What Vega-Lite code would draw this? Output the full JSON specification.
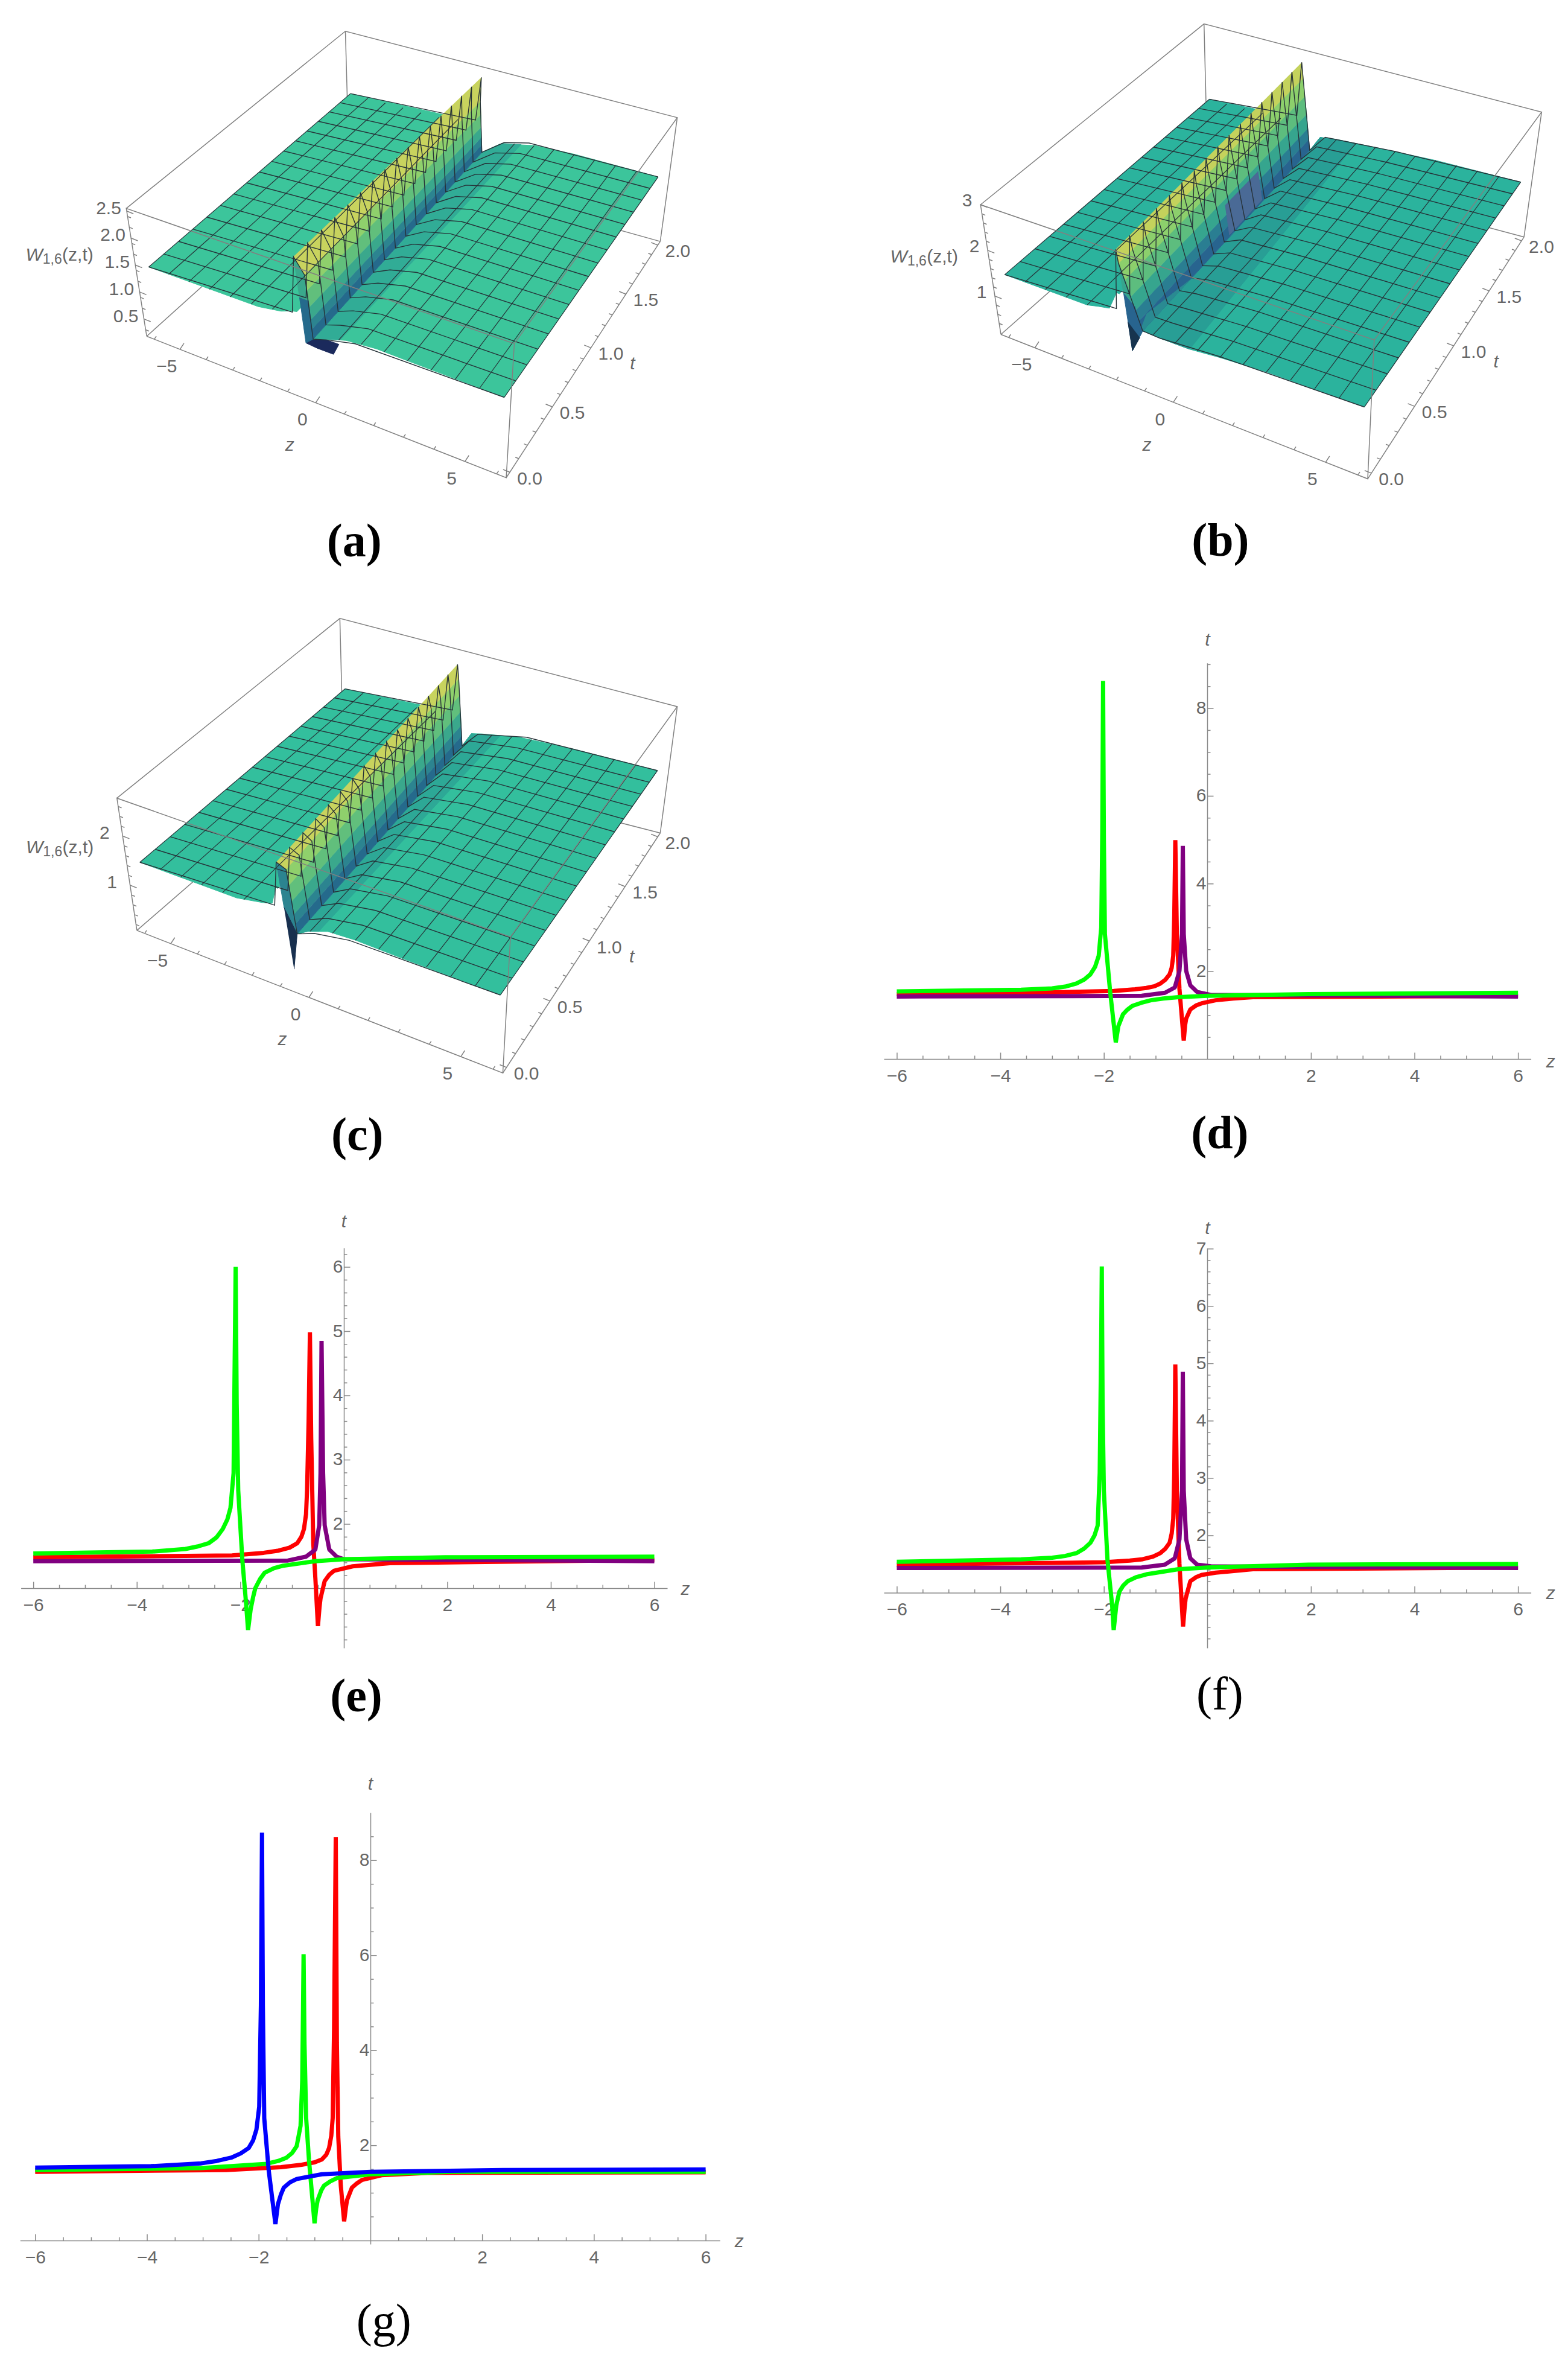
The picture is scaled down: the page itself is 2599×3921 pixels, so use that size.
{"$schema":"https://vega.github.io/schema/vega-lite/v6.json","padding":0,"background":"white","bounds":"flush","spacing":0,"columns":2,
"resolve":{"scale":{"color":"independent","fill":"independent","stroke":"independent","size":"independent"}},
"config":{"view":{"stroke":null},"text":{"font":"Liberation Sans","fontSize":30,"color":"#666666"},"axis":{"title":null,"grid":false,"domainColor":"#8a8a8a","tickColor":"#8a8a8a","domainWidth":1.5,"tickWidth":1.5,"labelColor":"#666666","labelFont":"Liberation Sans","labelFontSize":30,"labelOverlap":false,"labelFlush":false,"labelBound":false,"tickRound":false}},
"concat":[
{"width":1300,"height":1000,"data":{"values":[
{"g":"b","id":1,"z":-6.3,"t":-0.04,"w":0.18},{"g":"b","id":1,"z":-6.3,"t":2.04,"w":0.18},{"g":"b","id":1,"z":6.3,"t":2.04,"w":0.18},{"g":"b","id":2,"z":-6.3,"t":2.04,"w":0.18},{"g":"b","id":2,"z":-6.3,"t":2.04,"w":2.55},{"g":"b","id":3,"z":6.3,"t":2.04,"w":0.18},{"g":"b","id":3,"z":6.3,"t":2.04,"w":2.55},
{"g":"f","id":4,"z":-6.3,"t":-0.04,"w":0.18},{"g":"f","id":4,"z":-6.3,"t":-0.04,"w":2.55},{"g":"f","id":4,"z":6.3,"t":-0.04,"w":2.55},{"g":"f","id":4,"z":6.3,"t":-0.04,"w":0.18},{"g":"f","id":4,"z":-6.3,"t":-0.04,"w":0.18},{"g":"f","id":5,"z":6.3,"t":-0.04,"w":0.18},{"g":"f","id":5,"z":6.3,"t":2.04,"w":0.18},{"g":"f","id":6,"z":6.3,"t":-0.04,"w":2.55},{"g":"f","id":6,"z":6.3,"t":2.04,"w":2.55},{"g":"f","id":6,"z":-6.3,"t":2.04,"w":2.55},{"g":"f","id":6,"z":-6.3,"t":-0.04,"w":2.55},
{"g":"s","id":"L","c":"p","z":-6,"t":0,"w":1.44},{"g":"s","id":"L","c":"p","z":-2,"t":0,"w":1.45},{"g":"s","id":"L","c":"p","z":-1.2,"t":0,"w":1.52},{"g":"s","id":"L","c":"p","z":-0.8,"t":0,"w":1.6},{"g":"s","id":"L","c":"p","z":-0.64,"t":0,"w":1.62},{"g":"s","id":"L","c":"p","z":-0.64,"t":2,"w":1.55},{"g":"s","id":"L","c":"p","z":-6,"t":2,"w":1.44},
{"g":"s","id":"N","c":"v","z":-0.39,"t":0,"w":1.25},{"g":"s","id":"N","c":"v","z":0.1,"t":0,"w":1.3},{"g":"s","id":"N","c":"v","z":0.75,"t":0,"w":1.3},{"g":"s","id":"N","c":"v","z":0.55,"t":0,"w":1.08},{"g":"s","id":"N","c":"v","z":0,"t":0,"w":1.08},{"g":"s","id":"N","c":"v","z":-0.39,"t":0,"w":1.1},
{"g":"s","id":"R","c":"p","z":-0.13,"t":0,"w":1.22},{"g":"s","id":"R","c":"p","z":0.38,"t":0,"w":1.32},{"g":"s","id":"R","c":"p","z":1,"t":0,"w":1.42},{"g":"s","id":"R","c":"p","z":2,"t":0,"w":1.47},{"g":"s","id":"R","c":"p","z":3,"t":0,"w":1.46},{"g":"s","id":"R","c":"p","z":6,"t":0,"w":1.44},{"g":"s","id":"R","c":"p","z":6,"t":2,"w":1.44},{"g":"s","id":"R","c":"p","z":3,"t":2,"w":1.44},{"g":"s","id":"R","c":"p","z":1.5,"t":2,"w":1.4},{"g":"s","id":"R","c":"p","z":0.6,"t":2,"w":1.3},{"g":"s","id":"R","c":"p","z":0.25,"t":2,"w":1.27},{"g":"s","id":"R","c":"p","z":-0.5,"t":2,"w":1},
{"g":"s","id":"S","c":"sh","z":-0.13,"t":0,"w":1.22},{"g":"s","id":"S","c":"sh","z":0.38,"t":0,"w":1.32},{"g":"s","id":"S","c":"sh","z":0.8,"t":0,"w":1.39},{"g":"s","id":"S","c":"sh","z":1,"t":2,"w":1.35},{"g":"s","id":"S","c":"sh","z":0.25,"t":2,"w":1.27},{"g":"s","id":"S","c":"sh","z":-0.5,"t":2,"w":1},
{"g":"s","id":"Y","c":"y","z":-0.64,"t":0,"w":2.62},{"g":"s","id":"Y","c":"y","z":-0.3,"t":0,"w":2.35},{"g":"s","id":"Y","c":"y","z":-0.64,"t":2,"w":1.95},{"g":"s","id":"Y","c":"y","z":-0.64,"t":2,"w":2.42},
{"g":"s","id":"B1","c":"l","z":-0.3,"t":0,"w":2.35},{"g":"s","id":"B1","c":"l","z":-0.26,"t":0,"w":2.07},{"g":"s","id":"B1","c":"l","z":-0.6,"t":2,"w":1.71},{"g":"s","id":"B1","c":"l","z":-0.64,"t":2,"w":1.95},
{"g":"s","id":"B2","c":"g","z":-0.26,"t":0,"w":2.07},{"g":"s","id":"B2","c":"g","z":-0.21,"t":0,"w":1.78},{"g":"s","id":"B2","c":"g","z":-0.57,"t":2,"w":1.47},{"g":"s","id":"B2","c":"g","z":-0.6,"t":2,"w":1.71},
{"g":"s","id":"B3","c":"m","z":-0.21,"t":0,"w":1.78},{"g":"s","id":"B3","c":"m","z":-0.18,"t":0,"w":1.56},{"g":"s","id":"B3","c":"m","z":-0.54,"t":2,"w":1.28},{"g":"s","id":"B3","c":"m","z":-0.57,"t":2,"w":1.47},
{"g":"s","id":"B4","c":"n","z":-0.18,"t":0,"w":1.56},{"g":"s","id":"B4","c":"n","z":-0.16,"t":0,"w":1.39},{"g":"s","id":"B4","c":"n","z":-0.52,"t":2,"w":1.14},{"g":"s","id":"B4","c":"n","z":-0.54,"t":2,"w":1.28},
{"g":"s","id":"B5","c":"d","z":-0.16,"t":0,"w":1.39},{"g":"s","id":"B5","c":"d","z":-0.13,"t":0,"w":1.22},{"g":"s","id":"B5","c":"d","z":-0.5,"t":2,"w":1},{"g":"s","id":"B5","c":"d","z":-0.52,"t":2,"w":1.14},
{"g":"s","id":"F1","c":"m","z":-0.64,"t":0,"w":2.62},{"g":"s","id":"F1","c":"m","z":-0.52,"t":0,"w":1.9},{"g":"s","id":"F1","c":"m","z":-0.22,"t":0,"w":1.9},{"g":"s","id":"F1","c":"m","z":-0.3,"t":0,"w":2.35},
{"g":"s","id":"F2","c":"d","z":-0.52,"t":0,"w":1.9},{"g":"s","id":"F2","c":"d","z":-0.39,"t":0,"w":1.1},{"g":"s","id":"F2","c":"d","z":-0.13,"t":0,"w":1.22},{"g":"s","id":"F2","c":"d","z":-0.22,"t":0,"w":1.9},
{"g":"t","t":0,"z":-6,"w":1.44},{"g":"t","t":0,"z":-0.8,"w":1.58},{"g":"t","t":0,"z":-0.64,"w":2.62},{"g":"t","t":0,"z":-0.3,"w":2.35},{"g":"t","t":0,"z":-0.13,"w":1.22},{"g":"t","t":0,"z":0.35,"w":1.3},{"g":"t","t":0,"z":1.3,"w":1.42},{"g":"t","t":0,"z":6,"w":1.44},
{"g":"t","t":0.125,"z":-6,"w":1.44},{"g":"t","t":0.125,"z":-0.8,"w":1.58},{"g":"t","t":0.125,"z":-0.64,"w":2.61},{"g":"t","t":0.125,"z":-0.32,"w":2.33},{"g":"t","t":0.125,"z":-0.15,"w":1.21},{"g":"t","t":0.125,"z":0.35,"w":1.3},{"g":"t","t":0.125,"z":1.3,"w":1.42},{"g":"t","t":0.125,"z":6,"w":1.44},
{"g":"t","t":0.25,"z":-6,"w":1.44},{"g":"t","t":0.25,"z":-0.8,"w":1.58},{"g":"t","t":0.25,"z":-0.64,"w":2.6},{"g":"t","t":0.25,"z":-0.34,"w":2.3},{"g":"t","t":0.25,"z":-0.18,"w":1.19},{"g":"t","t":0.25,"z":0.35,"w":1.3},{"g":"t","t":0.25,"z":1.3,"w":1.42},{"g":"t","t":0.25,"z":6,"w":1.44},
{"g":"t","t":0.375,"z":-6,"w":1.44},{"g":"t","t":0.375,"z":-0.8,"w":1.58},{"g":"t","t":0.375,"z":-0.64,"w":2.58},{"g":"t","t":0.375,"z":-0.36,"w":2.28},{"g":"t","t":0.375,"z":-0.2,"w":1.18},{"g":"t","t":0.375,"z":0.35,"w":1.3},{"g":"t","t":0.375,"z":1.3,"w":1.42},{"g":"t","t":0.375,"z":6,"w":1.44},
{"g":"t","t":0.5,"z":-6,"w":1.44},{"g":"t","t":0.5,"z":-0.8,"w":1.58},{"g":"t","t":0.5,"z":-0.64,"w":2.57},{"g":"t","t":0.5,"z":-0.39,"w":2.25},{"g":"t","t":0.5,"z":-0.22,"w":1.17},{"g":"t","t":0.5,"z":0.35,"w":1.3},{"g":"t","t":0.5,"z":1.3,"w":1.42},{"g":"t","t":0.5,"z":6,"w":1.44},
{"g":"t","t":0.625,"z":-6,"w":1.44},{"g":"t","t":0.625,"z":-0.8,"w":1.58},{"g":"t","t":0.625,"z":-0.64,"w":2.56},{"g":"t","t":0.625,"z":-0.41,"w":2.23},{"g":"t","t":0.625,"z":-0.25,"w":1.15},{"g":"t","t":0.625,"z":0.35,"w":1.3},{"g":"t","t":0.625,"z":1.3,"w":1.42},{"g":"t","t":0.625,"z":6,"w":1.44},
{"g":"t","t":0.75,"z":-6,"w":1.44},{"g":"t","t":0.75,"z":-0.8,"w":1.58},{"g":"t","t":0.75,"z":-0.64,"w":2.55},{"g":"t","t":0.75,"z":-0.43,"w":2.2},{"g":"t","t":0.75,"z":-0.27,"w":1.14},{"g":"t","t":0.75,"z":0.35,"w":1.3},{"g":"t","t":0.75,"z":1.3,"w":1.42},{"g":"t","t":0.75,"z":6,"w":1.44},
{"g":"t","t":0.875,"z":-6,"w":1.44},{"g":"t","t":0.875,"z":-0.8,"w":1.58},{"g":"t","t":0.875,"z":-0.64,"w":2.53},{"g":"t","t":0.875,"z":-0.45,"w":2.18},{"g":"t","t":0.875,"z":-0.29,"w":1.12},{"g":"t","t":0.875,"z":0.35,"w":1.3},{"g":"t","t":0.875,"z":1.3,"w":1.42},{"g":"t","t":0.875,"z":6,"w":1.44},
{"g":"t","t":1,"z":-6,"w":1.44},{"g":"t","t":1,"z":-0.8,"w":1.58},{"g":"t","t":1,"z":-0.64,"w":2.52},{"g":"t","t":1,"z":-0.47,"w":2.15},{"g":"t","t":1,"z":-0.32,"w":1.11},{"g":"t","t":1,"z":0.35,"w":1.3},{"g":"t","t":1,"z":1.3,"w":1.42},{"g":"t","t":1,"z":6,"w":1.44},
{"g":"t","t":1.125,"z":-6,"w":1.44},{"g":"t","t":1.125,"z":-0.8,"w":1.58},{"g":"t","t":1.125,"z":-0.64,"w":2.51},{"g":"t","t":1.125,"z":-0.49,"w":2.13},{"g":"t","t":1.125,"z":-0.34,"w":1.1},{"g":"t","t":1.125,"z":0.35,"w":1.3},{"g":"t","t":1.125,"z":1.3,"w":1.42},{"g":"t","t":1.125,"z":6,"w":1.44},
{"g":"t","t":1.25,"z":-6,"w":1.44},{"g":"t","t":1.25,"z":-0.8,"w":1.58},{"g":"t","t":1.25,"z":-0.64,"w":2.5},{"g":"t","t":1.25,"z":-0.51,"w":2.1},{"g":"t","t":1.25,"z":-0.36,"w":1.08},{"g":"t","t":1.25,"z":0.35,"w":1.3},{"g":"t","t":1.25,"z":1.3,"w":1.42},{"g":"t","t":1.25,"z":6,"w":1.44},
{"g":"t","t":1.375,"z":-6,"w":1.44},{"g":"t","t":1.375,"z":-0.8,"w":1.58},{"g":"t","t":1.375,"z":-0.64,"w":2.48},{"g":"t","t":1.375,"z":-0.53,"w":2.08},{"g":"t","t":1.375,"z":-0.38,"w":1.07},{"g":"t","t":1.375,"z":0.35,"w":1.3},{"g":"t","t":1.375,"z":1.3,"w":1.42},{"g":"t","t":1.375,"z":6,"w":1.44},
{"g":"t","t":1.5,"z":-6,"w":1.44},{"g":"t","t":1.5,"z":-0.8,"w":1.58},{"g":"t","t":1.5,"z":-0.64,"w":2.47},{"g":"t","t":1.5,"z":-0.56,"w":2.05},{"g":"t","t":1.5,"z":-0.41,"w":1.06},{"g":"t","t":1.5,"z":0.35,"w":1.3},{"g":"t","t":1.5,"z":1.3,"w":1.42},{"g":"t","t":1.5,"z":6,"w":1.44},
{"g":"t","t":1.625,"z":-6,"w":1.44},{"g":"t","t":1.625,"z":-0.8,"w":1.58},{"g":"t","t":1.625,"z":-0.64,"w":2.46},{"g":"t","t":1.625,"z":-0.58,"w":2.03},{"g":"t","t":1.625,"z":-0.43,"w":1.04},{"g":"t","t":1.625,"z":0.35,"w":1.3},{"g":"t","t":1.625,"z":1.3,"w":1.42},{"g":"t","t":1.625,"z":6,"w":1.44},
{"g":"t","t":1.75,"z":-6,"w":1.44},{"g":"t","t":1.75,"z":-0.8,"w":1.58},{"g":"t","t":1.75,"z":-0.64,"w":2.45},{"g":"t","t":1.75,"z":-0.6,"w":2},{"g":"t","t":1.75,"z":-0.45,"w":1.03},{"g":"t","t":1.75,"z":0.35,"w":1.3},{"g":"t","t":1.75,"z":1.3,"w":1.42},{"g":"t","t":1.75,"z":6,"w":1.44},
{"g":"t","t":1.875,"z":-6,"w":1.44},{"g":"t","t":1.875,"z":-0.8,"w":1.58},{"g":"t","t":1.875,"z":-0.64,"w":2.43},{"g":"t","t":1.875,"z":-0.62,"w":1.98},{"g":"t","t":1.875,"z":-0.48,"w":1.01},{"g":"t","t":1.875,"z":0.35,"w":1.3},{"g":"t","t":1.875,"z":1.3,"w":1.42},{"g":"t","t":1.875,"z":6,"w":1.44},
{"g":"t","t":2,"z":-6,"w":1.44},{"g":"t","t":2,"z":-0.8,"w":1.58},{"g":"t","t":2,"z":-0.64,"w":2.42},{"g":"t","t":2,"z":-0.64,"w":1.95},{"g":"t","t":2,"z":-0.5,"w":1},{"g":"t","t":2,"z":0.35,"w":1.3},{"g":"t","t":2,"z":1.3,"w":1.42},{"g":"t","t":2,"z":6,"w":1.44},
{"g":"z","z":-6,"t":0,"w":1.44},{"g":"z","z":-6,"t":2,"w":1.44},{"g":"z","z":-5.25,"t":0,"w":1.44},{"g":"z","z":-5.25,"t":2,"w":1.44},{"g":"z","z":-4.5,"t":0,"w":1.44},{"g":"z","z":-4.5,"t":2,"w":1.44},{"g":"z","z":-3.75,"t":0,"w":1.44},{"g":"z","z":-3.75,"t":2,"w":1.44},{"g":"z","z":-3,"t":0,"w":1.44},{"g":"z","z":-3,"t":2,"w":1.44},{"g":"z","z":-2.25,"t":0,"w":1.45},{"g":"z","z":-2.25,"t":2,"w":1.45},{"g":"z","z":-1.5,"t":0,"w":1.5},{"g":"z","z":-1.5,"t":2,"w":1.5},{"g":"z","z":0.75,"t":0,"w":1.38},{"g":"z","z":0.75,"t":2,"w":1.33},{"g":"z","z":1.5,"t":0,"w":1.45},{"g":"z","z":1.5,"t":2,"w":1.4},{"g":"z","z":2.25,"t":0,"w":1.47},{"g":"z","z":2.25,"t":2,"w":1.43},{"g":"z","z":3,"t":0,"w":1.46},{"g":"z","z":3,"t":2,"w":1.44},{"g":"z","z":3.75,"t":0,"w":1.45},{"g":"z","z":3.75,"t":2,"w":1.44},{"g":"z","z":4.5,"t":0,"w":1.44},{"g":"z","z":4.5,"t":2,"w":1.44},{"g":"z","z":5.25,"t":0,"w":1.44},{"g":"z","z":5.25,"t":2,"w":1.44},{"g":"z","z":6,"t":0,"w":1.44},{"g":"z","z":6,"t":2,"w":1.44},
{"g":"kz","z":-6,"t":-0.04,"w":0.18,"m":0},{"g":"kz","z":-5,"t":-0.04,"w":0.18,"m":1},{"g":"kz","z":-4,"t":-0.04,"w":0.18,"m":0},{"g":"kz","z":-3,"t":-0.04,"w":0.18,"m":0},{"g":"kz","z":-2,"t":-0.04,"w":0.18,"m":0},{"g":"kz","z":-1,"t":-0.04,"w":0.18,"m":0},{"g":"kz","z":0,"t":-0.04,"w":0.18,"m":1},{"g":"kz","z":1,"t":-0.04,"w":0.18,"m":0},{"g":"kz","z":2,"t":-0.04,"w":0.18,"m":0},{"g":"kz","z":3,"t":-0.04,"w":0.18,"m":0},{"g":"kz","z":4,"t":-0.04,"w":0.18,"m":0},{"g":"kz","z":5,"t":-0.04,"w":0.18,"m":1},{"g":"kz","z":6,"t":-0.04,"w":0.18,"m":0},
{"g":"kt","z":6.3,"t":0,"w":0.18,"m":1},{"g":"kt","z":6.3,"t":0.1,"w":0.18,"m":0},{"g":"kt","z":6.3,"t":0.2,"w":0.18,"m":0},{"g":"kt","z":6.3,"t":0.3,"w":0.18,"m":0},{"g":"kt","z":6.3,"t":0.4,"w":0.18,"m":0},{"g":"kt","z":6.3,"t":0.5,"w":0.18,"m":1},{"g":"kt","z":6.3,"t":0.6,"w":0.18,"m":0},{"g":"kt","z":6.3,"t":0.7,"w":0.18,"m":0},{"g":"kt","z":6.3,"t":0.8,"w":0.18,"m":0},{"g":"kt","z":6.3,"t":0.9,"w":0.18,"m":0},{"g":"kt","z":6.3,"t":1,"w":0.18,"m":1},{"g":"kt","z":6.3,"t":1.1,"w":0.18,"m":0},{"g":"kt","z":6.3,"t":1.2,"w":0.18,"m":0},{"g":"kt","z":6.3,"t":1.3,"w":0.18,"m":0},{"g":"kt","z":6.3,"t":1.4,"w":0.18,"m":0},{"g":"kt","z":6.3,"t":1.5,"w":0.18,"m":1},{"g":"kt","z":6.3,"t":1.6,"w":0.18,"m":0},{"g":"kt","z":6.3,"t":1.7,"w":0.18,"m":0},{"g":"kt","z":6.3,"t":1.8,"w":0.18,"m":0},{"g":"kt","z":6.3,"t":1.9,"w":0.18,"m":0},{"g":"kt","z":6.3,"t":2,"w":0.18,"m":1},
{"g":"kw","z":-6.3,"t":-0.04,"w":0.3,"m":0},{"g":"kw","z":-6.3,"t":-0.04,"w":0.5,"m":1},{"g":"kw","z":-6.3,"t":-0.04,"w":0.7,"m":0},{"g":"kw","z":-6.3,"t":-0.04,"w":0.9,"m":0},{"g":"kw","z":-6.3,"t":-0.04,"w":1,"m":1},{"g":"kw","z":-6.3,"t":-0.04,"w":1.2,"m":0},{"g":"kw","z":-6.3,"t":-0.04,"w":1.4,"m":0},{"g":"kw","z":-6.3,"t":-0.04,"w":1.5,"m":1},{"g":"kw","z":-6.3,"t":-0.04,"w":1.7,"m":0},{"g":"kw","z":-6.3,"t":-0.04,"w":1.9,"m":0},{"g":"kw","z":-6.3,"t":-0.04,"w":2,"m":1},{"g":"kw","z":-6.3,"t":-0.04,"w":2.2,"m":0},{"g":"kw","z":-6.3,"t":-0.04,"w":2.4,"m":0},{"g":"kw","z":-6.3,"t":-0.04,"w":2.5,"m":1},
{"g":"lz","z":-5,"t":-0.04,"w":0.18,"x":"−5"},{"g":"lz","z":0,"t":-0.04,"w":0.18,"x":"0"},{"g":"lz","z":5,"t":-0.04,"w":0.18,"x":"5"},
{"g":"lt","z":6.3,"t":0,"w":0.18,"x":"0.0"},{"g":"lt","z":6.3,"t":0.5,"w":0.18,"x":"0.5"},{"g":"lt","z":6.3,"t":1,"w":0.18,"x":"1.0"},{"g":"lt","z":6.3,"t":1.5,"w":0.18,"x":"1.5"},{"g":"lt","z":6.3,"t":2,"w":0.18,"x":"2.0"},
{"g":"lw","z":-6.3,"t":-0.04,"w":0.5,"x":"0.5"},{"g":"lw","z":-6.3,"t":-0.04,"w":1,"x":"1.0"},{"g":"lw","z":-6.3,"t":-0.04,"w":1.5,"x":"1.5"},{"g":"lw","z":-6.3,"t":-0.04,"w":2,"x":"2.0"},{"g":"lw","z":-6.3,"t":-0.04,"w":2.5,"x":"2.5"},
{"g":"li","z":0.27,"t":-0.35,"w":0.18,"x":"z"},{"g":"li","z":7.71,"t":0.985,"w":0.18,"x":"t"},
{"g":"W","z":-6.3,"t":-0.04,"w":1.68},
{"g":"c","z":3.72,"t":-0.72,"w":0.18,"x":"(a)"}
]},
"transform":[{"window":[{"op":"row_number","as":"i"}]},
{"calculate":"((datum.z+6.3)/12.6)*0.887/(1-0.113*(datum.z+6.3)/12.6)","as":"u"},
{"calculate":"((datum.t+0.04)/2.08)*1.222/(1+0.222*(datum.t+0.04)/2.08)","as":"v"},
{"calculate":"(datum.w-0.18)/2.37","as":"h"},
{"calculate":"(1-datum.h)*((1-datum.v)*((1-datum.u)*203+datum.u*1048)+datum.v*((1-datum.u)*678+datum.u*1410))+datum.h*((1-datum.v)*((1-datum.u)*155+datum.u*1067)+datum.v*((1-datum.u)*670+datum.u*1450))","as":"sx"},
{"calculate":"(1-datum.h)*((1-datum.v)*((1-datum.u)*915+datum.u*1300)+datum.v*((1-datum.u)*420+datum.u*657))+datum.h*((1-datum.v)*((1-datum.u)*567+datum.u*935)+datum.v*((1-datum.u)*85+datum.u*320))","as":"sy"}],
"encoding":{"x":{"field":"sx","type":"quantitative","axis":null,"scale":{"domain":[-141.8,1701.6],"range":[0,1300],"zero":false,"nice":false}},"y":{"field":"sy","type":"quantitative","axis":null,"scale":{"domain":[0,1642],"range":[0,1000],"zero":false,"nice":false}}},
"layer":[
{"transform":[{"filter":"datum.g=='b'"}],"mark":{"type":"line","color":"#808080","strokeWidth":1.5},"encoding":{"detail":{"field":"id"},"order":{"field":"i"}}},
{"transform":[{"filter":"datum.g=='s'"}],"mark":{"type":"line","strokeWidth":1},"encoding":{"detail":{"field":"id"},"order":{"field":"i"},"fill":{"field":"c","type":"nominal","legend":null,"scale":{"domain":["p","sh","y","l","g","m","n","d","v"],"range":["#3CC59B","#31AC96","#C8D35E","#8FD06C","#61BF7C","#3AA88C","#2C8490","#256A8C","#1B2A5C"]}},"stroke":{"field":"c","type":"nominal","legend":null,"scale":{"domain":["p","sh","y","l","g","m","n","d","v"],"range":["#3CC59B","#31AC96","#C8D35E","#8FD06C","#61BF7C","#3AA88C","#2C8490","#256A8C","#1B2A5C"]}}}},
{"transform":[{"filter":"datum.g=='t'"}],"mark":{"type":"line","color":"#263238","strokeWidth":1.4},"encoding":{"detail":{"field":"t"},"order":{"field":"i"}}},
{"transform":[{"filter":"datum.g=='z'"}],"mark":{"type":"line","color":"#263238","strokeWidth":1.2},"encoding":{"detail":{"field":"z"},"order":{"field":"i"}}},
{"transform":[{"filter":"datum.g=='f'"}],"mark":{"type":"line","color":"#808080","strokeWidth":1.5},"encoding":{"detail":{"field":"id"},"order":{"field":"i"}}},
{"transform":[{"filter":"datum.g=='kz'"}],"mark":{"type":"point","shape":"M0,0L0.55,-0.84","filled":false,"color":"#808080","strokeWidth":1.5,"opacity":1},"encoding":{"size":{"field":"m","type":"quantitative","legend":null,"scale":{"domain":[0,1],"range":[144,576]}}}},
{"transform":[{"filter":"datum.g=='kt'"}],"mark":{"type":"point","shape":"M0,0L-0.93,-0.37","filled":false,"color":"#808080","strokeWidth":1.5,"opacity":1},"encoding":{"size":{"field":"m","type":"quantitative","legend":null,"scale":{"domain":[0,1],"range":[144,576]}}}},
{"transform":[{"filter":"datum.g=='kw'"}],"mark":{"type":"point","shape":"M0,0L0.93,0.37","filled":false,"color":"#808080","strokeWidth":1.5,"opacity":1},"encoding":{"size":{"field":"m","type":"quantitative","legend":null,"scale":{"domain":[0,1],"range":[144,576]}}}},
{"transform":[{"filter":"datum.g=='lz'"}],"mark":{"type":"text","dx":-22,"dy":29},"encoding":{"text":{"field":"x"}}},
{"transform":[{"filter":"datum.g=='lt'"}],"mark":{"type":"text","dx":33,"dy":11},"encoding":{"text":{"field":"x"}}},
{"transform":[{"filter":"datum.g=='lw'"}],"mark":{"type":"text","dx":-30,"dy":-4},"encoding":{"text":{"field":"x"}}},
{"transform":[{"filter":"datum.g=='li'"}],"mark":{"type":"text","fontStyle":"italic"},"encoding":{"text":{"field":"x"}}},
{"transform":[{"filter":"datum.g=='W'"}],"mark":{"type":"text","text":"(z,t)","align":"right","dx":-67},"encoding":{}},
{"transform":[{"filter":"datum.g=='W'"}],"mark":{"type":"text","text":"1,6","align":"right","dx":-119,"dy":7,"fontSize":23},"encoding":{}},
{"transform":[{"filter":"datum.g=='W'"}],"mark":{"type":"text","text":"W","align":"right","dx":-151,"fontStyle":"italic"},"encoding":{}},
{"transform":[{"filter":"datum.g=='c'"}],"mark":{"type":"text","font":"Liberation Serif","fontSize":78,"fontWeight":"bold","color":"#000000"},"encoding":{"text":{"field":"x"}}}
]},
{"width":1299,"height":1000,"data":{"values":[
{"g":"b","id":1,"z":-6.3,"t":-0.04,"w":0.16},{"g":"b","id":1,"z":-6.3,"t":2.04,"w":0.16},{"g":"b","id":1,"z":6.3,"t":2.04,"w":0.16},{"g":"b","id":2,"z":-6.3,"t":2.04,"w":0.16},{"g":"b","id":2,"z":-6.3,"t":2.04,"w":3},{"g":"b","id":3,"z":6.3,"t":2.04,"w":0.16},{"g":"b","id":3,"z":6.3,"t":2.04,"w":3},
{"g":"f","id":4,"z":-6.3,"t":-0.04,"w":0.16},{"g":"f","id":4,"z":-6.3,"t":-0.04,"w":3},{"g":"f","id":4,"z":6.3,"t":-0.04,"w":3},{"g":"f","id":4,"z":6.3,"t":-0.04,"w":0.16},{"g":"f","id":4,"z":-6.3,"t":-0.04,"w":0.16},{"g":"f","id":5,"z":6.3,"t":-0.04,"w":0.16},{"g":"f","id":5,"z":6.3,"t":2.04,"w":0.16},{"g":"f","id":6,"z":6.3,"t":-0.04,"w":3},{"g":"f","id":6,"z":6.3,"t":2.04,"w":3},{"g":"f","id":6,"z":-6.3,"t":2.04,"w":3},{"g":"f","id":6,"z":-6.3,"t":-0.04,"w":3},
{"g":"s","id":"L","c":"p","z":-6,"t":0,"w":1.44},{"g":"s","id":"L","c":"p","z":-3,"t":0,"w":1.44},{"g":"s","id":"L","c":"p","z":-2.6,"t":0,"w":1.5},{"g":"s","id":"L","c":"p","z":-2.2,"t":0,"w":1.55},{"g":"s","id":"L","c":"p","z":-1.9,"t":0,"w":1.95},{"g":"s","id":"L","c":"p","z":-1.8,"t":0,"w":1.95},{"g":"s","id":"L","c":"p","z":-2.2,"t":2,"w":1.55},{"g":"s","id":"L","c":"p","z":-6,"t":2,"w":1.44},
{"g":"s","id":"R","c":"p","z":-1.08,"t":0,"w":1.32},{"g":"s","id":"R","c":"p","z":-0.5,"t":0,"w":1.3},{"g":"s","id":"R","c":"p","z":0.5,"t":0,"w":1.3},{"g":"s","id":"R","c":"p","z":1.5,"t":0,"w":1.36},{"g":"s","id":"R","c":"p","z":3,"t":0,"w":1.42},{"g":"s","id":"R","c":"p","z":6,"t":0,"w":1.44},{"g":"s","id":"R","c":"p","z":6,"t":2,"w":1.44},{"g":"s","id":"R","c":"p","z":3,"t":2,"w":1.42},{"g":"s","id":"R","c":"p","z":1,"t":2,"w":1.36},{"g":"s","id":"R","c":"p","z":-0.8,"t":2,"w":1.3},{"g":"s","id":"R","c":"p","z":-1.4,"t":2,"w":1.25},{"g":"s","id":"R","c":"p","z":-1.8,"t":2,"w":0.9},
{"g":"s","id":"S","c":"sh","z":-1.08,"t":0,"w":1.32},{"g":"s","id":"S","c":"sh","z":-0.5,"t":0,"w":1.3},{"g":"s","id":"S","c":"sh","z":0.5,"t":0,"w":1.3},{"g":"s","id":"S","c":"sh","z":0,"t":2,"w":1.32},{"g":"s","id":"S","c":"sh","z":-1.4,"t":2,"w":1.25},{"g":"s","id":"S","c":"sh","z":-1.8,"t":2,"w":0.9},
{"g":"s","id":"Y","c":"y","z":-1.8,"t":0,"w":2.9},{"g":"s","id":"Y","c":"y","z":-1.74,"t":0,"w":2.61},{"g":"s","id":"Y","c":"y","z":-2.13,"t":2,"w":2.45},{"g":"s","id":"Y","c":"y","z":-2.2,"t":2,"w":2.8},
{"g":"s","id":"B1","c":"l","z":-1.74,"t":0,"w":2.61},{"g":"s","id":"B1","c":"l","z":-1.57,"t":0,"w":2.29},{"g":"s","id":"B1","c":"l","z":-2.05,"t":2,"w":2.06},{"g":"s","id":"B1","c":"l","z":-2.13,"t":2,"w":2.45},
{"g":"s","id":"B2","c":"g","z":-1.57,"t":0,"w":2.29},{"g":"s","id":"B2","c":"g","z":-1.41,"t":0,"w":1.97},{"g":"s","id":"B2","c":"g","z":-1.96,"t":2,"w":1.68},{"g":"s","id":"B2","c":"g","z":-2.05,"t":2,"w":2.06},
{"g":"s","id":"B3","c":"m","z":-1.41,"t":0,"w":1.97},{"g":"s","id":"B3","c":"m","z":-1.28,"t":0,"w":1.71},{"g":"s","id":"B3","c":"m","z":-1.9,"t":2,"w":1.37},{"g":"s","id":"B3","c":"m","z":-1.96,"t":2,"w":1.68},
{"g":"s","id":"B4","c":"n","z":-1.28,"t":0,"w":1.71},{"g":"s","id":"B4","c":"n","z":-1.18,"t":0,"w":1.51},{"g":"s","id":"B4","c":"n","z":-1.85,"t":2,"w":1.13},{"g":"s","id":"B4","c":"n","z":-1.9,"t":2,"w":1.37},
{"g":"s","id":"B5","c":"d","z":-1.18,"t":0,"w":1.51},{"g":"s","id":"B5","c":"d","z":-1.08,"t":0,"w":1.32},{"g":"s","id":"B5","c":"d","z":-1.8,"t":2,"w":0.9},{"g":"s","id":"B5","c":"d","z":-1.85,"t":2,"w":1.13},
{"g":"s","id":"B6","c":"u","z":-1.6,"t":0.95,"w":1.75},{"g":"s","id":"B6","c":"u","z":-1.47,"t":0.95,"w":1.12},{"g":"s","id":"B6","c":"u","z":-1.6,"t":1.35,"w":1.05},{"g":"s","id":"B6","c":"u","z":-1.75,"t":1.35,"w":1.65},
{"g":"s","id":"N","c":"w","z":-1.5,"t":0,"w":0.8},{"g":"s","id":"N","c":"w","z":-1.08,"t":0,"w":1.32},{"g":"s","id":"N","c":"w","z":-1.33,"t":0.5,"w":1.15},{"g":"s","id":"N","c":"w","z":-1.55,"t":0.15,"w":1.2},
{"g":"s","id":"F1","c":"m","z":-1.8,"t":0,"w":2.9},{"g":"s","id":"F1","c":"m","z":-1.65,"t":0,"w":2},{"g":"s","id":"F1","c":"m","z":-1.3,"t":0,"w":1.8},{"g":"s","id":"F1","c":"m","z":-1.74,"t":0,"w":2.61},
{"g":"s","id":"F2","c":"d","z":-1.65,"t":0,"w":2},{"g":"s","id":"F2","c":"d","z":-1.5,"t":0,"w":0.8},{"g":"s","id":"F2","c":"d","z":-1.08,"t":0,"w":1.32},{"g":"s","id":"F2","c":"d","z":-1.3,"t":0,"w":1.8},
{"g":"s","id":"F3","c":"v","z":-1.58,"t":0,"w":1.4},{"g":"s","id":"F3","c":"v","z":-1.5,"t":0,"w":0.8},{"g":"s","id":"F3","c":"v","z":-1.2,"t":0,"w":1.15},
{"g":"t","t":0,"z":-6,"w":1.44},{"g":"t","t":0,"z":-1.95,"w":1.6},{"g":"t","t":0,"z":-1.8,"w":2.9},{"g":"t","t":0,"z":-1.74,"w":2.61},{"g":"t","t":0,"z":-1.08,"w":1.32},{"g":"t","t":0,"z":-0.48,"w":1.3},{"g":"t","t":0,"z":1.5,"w":1.38},{"g":"t","t":0,"z":6,"w":1.44},
{"g":"t","t":0.125,"z":-6,"w":1.44},{"g":"t","t":0.125,"z":-1.98,"w":1.6},{"g":"t","t":0.125,"z":-1.83,"w":2.89},{"g":"t","t":0.125,"z":-1.76,"w":2.6},{"g":"t","t":0.125,"z":-1.13,"w":1.29},{"g":"t","t":0.125,"z":-0.53,"w":1.3},{"g":"t","t":0.125,"z":1.5,"w":1.38},{"g":"t","t":0.125,"z":6,"w":1.44},
{"g":"t","t":0.25,"z":-6,"w":1.44},{"g":"t","t":0.25,"z":-2,"w":1.6},{"g":"t","t":0.25,"z":-1.85,"w":2.89},{"g":"t","t":0.25,"z":-1.79,"w":2.59},{"g":"t","t":0.25,"z":-1.17,"w":1.27},{"g":"t","t":0.25,"z":-0.57,"w":1.3},{"g":"t","t":0.25,"z":1.5,"w":1.38},{"g":"t","t":0.25,"z":6,"w":1.44},
{"g":"t","t":0.375,"z":-6,"w":1.44},{"g":"t","t":0.375,"z":-2.03,"w":1.6},{"g":"t","t":0.375,"z":-1.88,"w":2.88},{"g":"t","t":0.375,"z":-1.81,"w":2.58},{"g":"t","t":0.375,"z":-1.22,"w":1.24},{"g":"t","t":0.375,"z":-0.62,"w":1.3},{"g":"t","t":0.375,"z":1.5,"w":1.38},{"g":"t","t":0.375,"z":6,"w":1.44},
{"g":"t","t":0.5,"z":-6,"w":1.44},{"g":"t","t":0.5,"z":-2.05,"w":1.6},{"g":"t","t":0.5,"z":-1.9,"w":2.88},{"g":"t","t":0.5,"z":-1.84,"w":2.57},{"g":"t","t":0.5,"z":-1.26,"w":1.22},{"g":"t","t":0.5,"z":-0.66,"w":1.3},{"g":"t","t":0.5,"z":1.5,"w":1.38},{"g":"t","t":0.5,"z":6,"w":1.44},
{"g":"t","t":0.625,"z":-6,"w":1.44},{"g":"t","t":0.625,"z":-2.08,"w":1.6},{"g":"t","t":0.625,"z":-1.93,"w":2.87},{"g":"t","t":0.625,"z":-1.86,"w":2.56},{"g":"t","t":0.625,"z":-1.31,"w":1.19},{"g":"t","t":0.625,"z":-0.71,"w":1.3},{"g":"t","t":0.625,"z":1.5,"w":1.38},{"g":"t","t":0.625,"z":6,"w":1.44},
{"g":"t","t":0.75,"z":-6,"w":1.44},{"g":"t","t":0.75,"z":-2.1,"w":1.6},{"g":"t","t":0.75,"z":-1.95,"w":2.86},{"g":"t","t":0.75,"z":-1.89,"w":2.55},{"g":"t","t":0.75,"z":-1.35,"w":1.16},{"g":"t","t":0.75,"z":-0.75,"w":1.3},{"g":"t","t":0.75,"z":1.5,"w":1.38},{"g":"t","t":0.75,"z":6,"w":1.44},
{"g":"t","t":0.875,"z":-6,"w":1.44},{"g":"t","t":0.875,"z":-2.13,"w":1.6},{"g":"t","t":0.875,"z":-1.98,"w":2.86},{"g":"t","t":0.875,"z":-1.91,"w":2.54},{"g":"t","t":0.875,"z":-1.4,"w":1.14},{"g":"t","t":0.875,"z":-0.8,"w":1.3},{"g":"t","t":0.875,"z":1.5,"w":1.38},{"g":"t","t":0.875,"z":6,"w":1.44},
{"g":"t","t":1,"z":-6,"w":1.44},{"g":"t","t":1,"z":-2.15,"w":1.6},{"g":"t","t":1,"z":-2,"w":2.85},{"g":"t","t":1,"z":-1.94,"w":2.53},{"g":"t","t":1,"z":-1.44,"w":1.11},{"g":"t","t":1,"z":-0.84,"w":1.3},{"g":"t","t":1,"z":1.5,"w":1.38},{"g":"t","t":1,"z":6,"w":1.44},
{"g":"t","t":1.125,"z":-6,"w":1.44},{"g":"t","t":1.125,"z":-2.18,"w":1.6},{"g":"t","t":1.125,"z":-2.03,"w":2.84},{"g":"t","t":1.125,"z":-1.96,"w":2.52},{"g":"t","t":1.125,"z":-1.49,"w":1.08},{"g":"t","t":1.125,"z":-0.89,"w":1.3},{"g":"t","t":1.125,"z":1.5,"w":1.38},{"g":"t","t":1.125,"z":6,"w":1.44},
{"g":"t","t":1.25,"z":-6,"w":1.44},{"g":"t","t":1.25,"z":-2.2,"w":1.6},{"g":"t","t":1.25,"z":-2.05,"w":2.84},{"g":"t","t":1.25,"z":-1.98,"w":2.51},{"g":"t","t":1.25,"z":-1.53,"w":1.06},{"g":"t","t":1.25,"z":-0.93,"w":1.3},{"g":"t","t":1.25,"z":1.5,"w":1.38},{"g":"t","t":1.25,"z":6,"w":1.44},
{"g":"t","t":1.375,"z":-6,"w":1.44},{"g":"t","t":1.375,"z":-2.23,"w":1.6},{"g":"t","t":1.375,"z":-2.08,"w":2.83},{"g":"t","t":1.375,"z":-2.01,"w":2.5},{"g":"t","t":1.375,"z":-1.58,"w":1.03},{"g":"t","t":1.375,"z":-0.98,"w":1.3},{"g":"t","t":1.375,"z":1.5,"w":1.38},{"g":"t","t":1.375,"z":6,"w":1.44},
{"g":"t","t":1.5,"z":-6,"w":1.44},{"g":"t","t":1.5,"z":-2.25,"w":1.6},{"g":"t","t":1.5,"z":-2.1,"w":2.83},{"g":"t","t":1.5,"z":-2.03,"w":2.49},{"g":"t","t":1.5,"z":-1.62,"w":1.01},{"g":"t","t":1.5,"z":-1.02,"w":1.3},{"g":"t","t":1.5,"z":1.5,"w":1.38},{"g":"t","t":1.5,"z":6,"w":1.44},
{"g":"t","t":1.625,"z":-6,"w":1.44},{"g":"t","t":1.625,"z":-2.28,"w":1.6},{"g":"t","t":1.625,"z":-2.13,"w":2.82},{"g":"t","t":1.625,"z":-2.06,"w":2.48},{"g":"t","t":1.625,"z":-1.67,"w":0.98},{"g":"t","t":1.625,"z":-1.07,"w":1.3},{"g":"t","t":1.625,"z":1.5,"w":1.38},{"g":"t","t":1.625,"z":6,"w":1.44},
{"g":"t","t":1.75,"z":-6,"w":1.44},{"g":"t","t":1.75,"z":-2.3,"w":1.6},{"g":"t","t":1.75,"z":-2.15,"w":2.81},{"g":"t","t":1.75,"z":-2.08,"w":2.47},{"g":"t","t":1.75,"z":-1.71,"w":0.95},{"g":"t","t":1.75,"z":-1.11,"w":1.3},{"g":"t","t":1.75,"z":1.5,"w":1.38},{"g":"t","t":1.75,"z":6,"w":1.44},
{"g":"t","t":1.875,"z":-6,"w":1.44},{"g":"t","t":1.875,"z":-2.33,"w":1.6},{"g":"t","t":1.875,"z":-2.18,"w":2.81},{"g":"t","t":1.875,"z":-2.11,"w":2.46},{"g":"t","t":1.875,"z":-1.76,"w":0.93},{"g":"t","t":1.875,"z":-1.16,"w":1.3},{"g":"t","t":1.875,"z":1.5,"w":1.38},{"g":"t","t":1.875,"z":6,"w":1.44},
{"g":"t","t":2,"z":-6,"w":1.44},{"g":"t","t":2,"z":-2.35,"w":1.6},{"g":"t","t":2,"z":-2.2,"w":2.8},{"g":"t","t":2,"z":-2.13,"w":2.45},{"g":"t","t":2,"z":-1.8,"w":0.9},{"g":"t","t":2,"z":-1.2,"w":1.28},{"g":"t","t":2,"z":1.5,"w":1.38},{"g":"t","t":2,"z":6,"w":1.44},
{"g":"z","z":-6,"t":0,"w":1.44},{"g":"z","z":-6,"t":2,"w":1.44},{"g":"z","z":-5.25,"t":0,"w":1.44},{"g":"z","z":-5.25,"t":2,"w":1.44},{"g":"z","z":-4.5,"t":0,"w":1.44},{"g":"z","z":-4.5,"t":2,"w":1.44},{"g":"z","z":-3.75,"t":0,"w":1.44},{"g":"z","z":-3.75,"t":2,"w":1.44},{"g":"z","z":-3,"t":0,"w":1.44},{"g":"z","z":-3,"t":2,"w":1.44},{"g":"z","z":-0.75,"t":0,"w":1.3},{"g":"z","z":-0.75,"t":2,"w":1.3},{"g":"z","z":0,"t":0,"w":1.3},{"g":"z","z":0,"t":2,"w":1.32},{"g":"z","z":0.75,"t":0,"w":1.32},{"g":"z","z":0.75,"t":2,"w":1.35},{"g":"z","z":1.5,"t":0,"w":1.36},{"g":"z","z":1.5,"t":2,"w":1.38},{"g":"z","z":2.25,"t":0,"w":1.39},{"g":"z","z":2.25,"t":2,"w":1.4},{"g":"z","z":3,"t":0,"w":1.42},{"g":"z","z":3,"t":2,"w":1.42},{"g":"z","z":3.75,"t":0,"w":1.43},{"g":"z","z":3.75,"t":2,"w":1.43},{"g":"z","z":4.5,"t":0,"w":1.44},{"g":"z","z":4.5,"t":2,"w":1.44},{"g":"z","z":5.25,"t":0,"w":1.44},{"g":"z","z":5.25,"t":2,"w":1.44},{"g":"z","z":6,"t":0,"w":1.44},{"g":"z","z":6,"t":2,"w":1.44},
{"g":"kz","z":-6,"t":-0.04,"w":0.16,"m":0},{"g":"kz","z":-5,"t":-0.04,"w":0.16,"m":1},{"g":"kz","z":-4,"t":-0.04,"w":0.16,"m":0},{"g":"kz","z":-3,"t":-0.04,"w":0.16,"m":0},{"g":"kz","z":-2,"t":-0.04,"w":0.16,"m":0},{"g":"kz","z":-1,"t":-0.04,"w":0.16,"m":0},{"g":"kz","z":0,"t":-0.04,"w":0.16,"m":1},{"g":"kz","z":1,"t":-0.04,"w":0.16,"m":0},{"g":"kz","z":2,"t":-0.04,"w":0.16,"m":0},{"g":"kz","z":3,"t":-0.04,"w":0.16,"m":0},{"g":"kz","z":4,"t":-0.04,"w":0.16,"m":0},{"g":"kz","z":5,"t":-0.04,"w":0.16,"m":1},{"g":"kz","z":6,"t":-0.04,"w":0.16,"m":0},
{"g":"kt","z":6.3,"t":0,"w":0.16,"m":1},{"g":"kt","z":6.3,"t":0.1,"w":0.16,"m":0},{"g":"kt","z":6.3,"t":0.2,"w":0.16,"m":0},{"g":"kt","z":6.3,"t":0.3,"w":0.16,"m":0},{"g":"kt","z":6.3,"t":0.4,"w":0.16,"m":0},{"g":"kt","z":6.3,"t":0.5,"w":0.16,"m":1},{"g":"kt","z":6.3,"t":0.6,"w":0.16,"m":0},{"g":"kt","z":6.3,"t":0.7,"w":0.16,"m":0},{"g":"kt","z":6.3,"t":0.8,"w":0.16,"m":0},{"g":"kt","z":6.3,"t":0.9,"w":0.16,"m":0},{"g":"kt","z":6.3,"t":1,"w":0.16,"m":1},{"g":"kt","z":6.3,"t":1.1,"w":0.16,"m":0},{"g":"kt","z":6.3,"t":1.2,"w":0.16,"m":0},{"g":"kt","z":6.3,"t":1.3,"w":0.16,"m":0},{"g":"kt","z":6.3,"t":1.4,"w":0.16,"m":0},{"g":"kt","z":6.3,"t":1.5,"w":0.16,"m":1},{"g":"kt","z":6.3,"t":1.6,"w":0.16,"m":0},{"g":"kt","z":6.3,"t":1.7,"w":0.16,"m":0},{"g":"kt","z":6.3,"t":1.8,"w":0.16,"m":0},{"g":"kt","z":6.3,"t":1.9,"w":0.16,"m":0},{"g":"kt","z":6.3,"t":2,"w":0.16,"m":1},
{"g":"kw","z":-6.3,"t":-0.04,"w":0.4,"m":0},{"g":"kw","z":-6.3,"t":-0.04,"w":0.6,"m":0},{"g":"kw","z":-6.3,"t":-0.04,"w":0.8,"m":0},{"g":"kw","z":-6.3,"t":-0.04,"w":1,"m":1},{"g":"kw","z":-6.3,"t":-0.04,"w":1.2,"m":0},{"g":"kw","z":-6.3,"t":-0.04,"w":1.4,"m":0},{"g":"kw","z":-6.3,"t":-0.04,"w":1.6,"m":0},{"g":"kw","z":-6.3,"t":-0.04,"w":1.8,"m":0},{"g":"kw","z":-6.3,"t":-0.04,"w":2,"m":1},{"g":"kw","z":-6.3,"t":-0.04,"w":2.2,"m":0},{"g":"kw","z":-6.3,"t":-0.04,"w":2.4,"m":0},{"g":"kw","z":-6.3,"t":-0.04,"w":2.6,"m":0},{"g":"kw","z":-6.3,"t":-0.04,"w":2.8,"m":0},{"g":"kw","z":-6.3,"t":-0.04,"w":3,"m":1},
{"g":"lz","z":-5,"t":-0.04,"w":0.16,"x":"−5"},{"g":"lz","z":0,"t":-0.04,"w":0.16,"x":"0"},{"g":"lz","z":5,"t":-0.04,"w":0.16,"x":"5"},
{"g":"lt","z":6.3,"t":0,"w":0.16,"x":"0.0"},{"g":"lt","z":6.3,"t":0.5,"w":0.16,"x":"0.5"},{"g":"lt","z":6.3,"t":1,"w":0.16,"x":"1.0"},{"g":"lt","z":6.3,"t":1.5,"w":0.16,"x":"1.5"},{"g":"lt","z":6.3,"t":2,"w":0.16,"x":"2.0"},
{"g":"lw","z":-6.3,"t":-0.04,"w":1,"x":"1"},{"g":"lw","z":-6.3,"t":-0.04,"w":2,"x":"2"},{"g":"lw","z":-6.3,"t":-0.04,"w":3,"x":"3"},
{"g":"li","z":0.27,"t":-0.35,"w":0.16,"x":"z"},{"g":"li","z":7.71,"t":0.985,"w":0.16,"x":"t"},
{"g":"W","z":-6.3,"t":-0.04,"w":1.85},
{"g":"c","z":3.84,"t":-0.69,"w":0.16,"x":"(b)"}
]},
"transform":[{"window":[{"op":"row_number","as":"i"}]},
{"calculate":"((datum.z+6.3)/12.6)*0.887/(1-0.113*(datum.z+6.3)/12.6)","as":"u"},
{"calculate":"((datum.t+0.04)/2.08)*1.222/(1+0.222*(datum.t+0.04)/2.08)","as":"v"},
{"calculate":"(datum.w-0.16)/2.84","as":"h"},
{"calculate":"(1-datum.h)*((1-datum.v)*((1-datum.u)*337+datum.u*1128)+datum.v*((1-datum.u)*782+datum.u*1465))+datum.h*((1-datum.v)*((1-datum.u)*293+datum.u*1142)+datum.v*((1-datum.u)*775+datum.u*1503))","as":"sx"},
{"calculate":"(1-datum.h)*((1-datum.v)*((1-datum.u)*910+datum.u*1303)+datum.v*((1-datum.u)*415+datum.u*645))+datum.h*((1-datum.v)*((1-datum.u)*557+datum.u*925)+datum.v*((1-datum.u)*65+datum.u*305))","as":"sy"}],
"encoding":{"x":{"field":"sx","type":"quantitative","axis":null,"scale":{"domain":[-130.1,1559.9],"range":[0,1299],"zero":false,"nice":false}},"y":{"field":"sy","type":"quantitative","axis":null,"scale":{"domain":[0,1642],"range":[0,1000],"zero":false,"nice":false}}},
"layer":[
{"transform":[{"filter":"datum.g=='b'"}],"mark":{"type":"line","color":"#808080","strokeWidth":1.5},"encoding":{"detail":{"field":"id"},"order":{"field":"i"}}},
{"transform":[{"filter":"datum.g=='s'"}],"mark":{"type":"line","strokeWidth":1},"encoding":{"detail":{"field":"id"},"order":{"field":"i"},"fill":{"field":"c","type":"nominal","legend":null,"scale":{"domain":["p","sh","y","l","g","m","n","d","u","v","w"],"range":["#2BB39D","#289E95","#C4D25C","#8CCF6C","#5DBD7E","#36A58E","#2A7E92","#28648F","#4A6A96","#17344F","#2A8A92"]}},"stroke":{"field":"c","type":"nominal","legend":null,"scale":{"domain":["p","sh","y","l","g","m","n","d","u","v","w"],"range":["#2BB39D","#289E95","#C4D25C","#8CCF6C","#5DBD7E","#36A58E","#2A7E92","#28648F","#4A6A96","#17344F","#2A8A92"]}}}},
{"transform":[{"filter":"datum.g=='t'"}],"mark":{"type":"line","color":"#263238","strokeWidth":1.4},"encoding":{"detail":{"field":"t"},"order":{"field":"i"}}},
{"transform":[{"filter":"datum.g=='z'"}],"mark":{"type":"line","color":"#263238","strokeWidth":1.2},"encoding":{"detail":{"field":"z"},"order":{"field":"i"}}},
{"transform":[{"filter":"datum.g=='f'"}],"mark":{"type":"line","color":"#808080","strokeWidth":1.5},"encoding":{"detail":{"field":"id"},"order":{"field":"i"}}},
{"transform":[{"filter":"datum.g=='kz'"}],"mark":{"type":"point","shape":"M0,0L0.55,-0.84","filled":false,"color":"#808080","strokeWidth":1.5,"opacity":1},"encoding":{"size":{"field":"m","type":"quantitative","legend":null,"scale":{"domain":[0,1],"range":[144,576]}}}},
{"transform":[{"filter":"datum.g=='kt'"}],"mark":{"type":"point","shape":"M0,0L-0.93,-0.37","filled":false,"color":"#808080","strokeWidth":1.5,"opacity":1},"encoding":{"size":{"field":"m","type":"quantitative","legend":null,"scale":{"domain":[0,1],"range":[144,576]}}}},
{"transform":[{"filter":"datum.g=='kw'"}],"mark":{"type":"point","shape":"M0,0L0.93,0.37","filled":false,"color":"#808080","strokeWidth":1.5,"opacity":1},"encoding":{"size":{"field":"m","type":"quantitative","legend":null,"scale":{"domain":[0,1],"range":[144,576]}}}},
{"transform":[{"filter":"datum.g=='lz'"}],"mark":{"type":"text","dx":-22,"dy":29},"encoding":{"text":{"field":"x"}}},
{"transform":[{"filter":"datum.g=='lt'"}],"mark":{"type":"text","dx":33,"dy":11},"encoding":{"text":{"field":"x"}}},
{"transform":[{"filter":"datum.g=='lw'"}],"mark":{"type":"text","dx":-22,"dy":-6},"encoding":{"text":{"field":"x"}}},
{"transform":[{"filter":"datum.g=='li'"}],"mark":{"type":"text","fontStyle":"italic"},"encoding":{"text":{"field":"x"}}},
{"transform":[{"filter":"datum.g=='W'"}],"mark":{"type":"text","text":"(z,t)","align":"right","dx":-51},"encoding":{}},
{"transform":[{"filter":"datum.g=='W'"}],"mark":{"type":"text","text":"1,6","align":"right","dx":-103,"dy":7,"fontSize":23},"encoding":{}},
{"transform":[{"filter":"datum.g=='W'"}],"mark":{"type":"text","text":"W","align":"right","dx":-135,"fontStyle":"italic"},"encoding":{}},
{"transform":[{"filter":"datum.g=='c'"}],"mark":{"type":"text","font":"Liberation Serif","fontSize":78,"fontWeight":"bold","color":"#000000"},"encoding":{"text":{"field":"x"}}}
]},
{"width":1300,"height":965,"data":{"values":[
{"g":"b","id":1,"z":-6.3,"t":-0.04,"w":0.08},{"g":"b","id":1,"z":-6.3,"t":2.04,"w":0.08},{"g":"b","id":1,"z":6.3,"t":2.04,"w":0.08},{"g":"b","id":2,"z":-6.3,"t":2.04,"w":0.08},{"g":"b","id":2,"z":-6.3,"t":2.04,"w":2.77},{"g":"b","id":3,"z":6.3,"t":2.04,"w":0.08},{"g":"b","id":3,"z":6.3,"t":2.04,"w":2.77},
{"g":"f","id":4,"z":-6.3,"t":-0.04,"w":0.08},{"g":"f","id":4,"z":-6.3,"t":-0.04,"w":2.77},{"g":"f","id":4,"z":6.3,"t":-0.04,"w":2.77},{"g":"f","id":4,"z":6.3,"t":-0.04,"w":0.08},{"g":"f","id":4,"z":-6.3,"t":-0.04,"w":0.08},{"g":"f","id":5,"z":6.3,"t":-0.04,"w":0.08},{"g":"f","id":5,"z":6.3,"t":2.04,"w":0.08},{"g":"f","id":6,"z":6.3,"t":-0.04,"w":2.77},{"g":"f","id":6,"z":6.3,"t":2.04,"w":2.77},{"g":"f","id":6,"z":-6.3,"t":2.04,"w":2.77},{"g":"f","id":6,"z":-6.3,"t":-0.04,"w":2.77},
{"g":"s","id":"L","c":"p","z":-6,"t":0,"w":1.44},{"g":"s","id":"L","c":"p","z":-2.5,"t":0,"w":1.44},{"g":"s","id":"L","c":"p","z":-1.6,"t":0,"w":1.54},{"g":"s","id":"L","c":"p","z":-1.25,"t":0,"w":1.6},{"g":"s","id":"L","c":"p","z":-1.1,"t":0,"w":1.95},{"g":"s","id":"L","c":"p","z":-1.02,"t":0,"w":1.95},{"g":"s","id":"L","c":"p","z":-1.42,"t":2,"w":1.55},{"g":"s","id":"L","c":"p","z":-6,"t":2,"w":1.44},
{"g":"s","id":"R","c":"p","z":-0.45,"t":0,"w":1.16},{"g":"s","id":"R","c":"p","z":-0.06,"t":0,"w":1.3},{"g":"s","id":"R","c":"p","z":0.6,"t":0,"w":1.44},{"g":"s","id":"R","c":"p","z":1.5,"t":0,"w":1.47},{"g":"s","id":"R","c":"p","z":3,"t":0,"w":1.45},{"g":"s","id":"R","c":"p","z":6,"t":0,"w":1.44},{"g":"s","id":"R","c":"p","z":6,"t":2,"w":1.44},{"g":"s","id":"R","c":"p","z":3,"t":2,"w":1.43},{"g":"s","id":"R","c":"p","z":1,"t":2,"w":1.38},{"g":"s","id":"R","c":"p","z":-0.4,"t":2,"w":1.25},{"g":"s","id":"R","c":"p","z":-0.8,"t":2,"w":1.2},{"g":"s","id":"R","c":"p","z":-1.15,"t":2,"w":0.9},
{"g":"s","id":"S","c":"sh","z":-0.45,"t":0,"w":1.16},{"g":"s","id":"S","c":"sh","z":-0.06,"t":0,"w":1.3},{"g":"s","id":"S","c":"sh","z":0.3,"t":0,"w":1.38},{"g":"s","id":"S","c":"sh","z":0.3,"t":2,"w":1.3},{"g":"s","id":"S","c":"sh","z":-0.8,"t":2,"w":1.2},{"g":"s","id":"S","c":"sh","z":-1.15,"t":2,"w":0.9},
{"g":"s","id":"Y","c":"y","z":-1.02,"t":0,"w":2.48},{"g":"s","id":"Y","c":"y","z":-0.7,"t":0,"w":2.4},{"g":"s","id":"Y","c":"y","z":-1.36,"t":2,"w":2.25},{"g":"s","id":"Y","c":"y","z":-1.42,"t":2,"w":2.54},
{"g":"s","id":"B1","c":"l","z":-0.7,"t":0,"w":2.4},{"g":"s","id":"B1","c":"l","z":-0.64,"t":0,"w":2.09},{"g":"s","id":"B1","c":"l","z":-1.31,"t":2,"w":1.91},{"g":"s","id":"B1","c":"l","z":-1.36,"t":2,"w":2.25},
{"g":"s","id":"B2","c":"g","z":-0.64,"t":0,"w":2.09},{"g":"s","id":"B2","c":"g","z":-0.58,"t":0,"w":1.78},{"g":"s","id":"B2","c":"g","z":-1.26,"t":2,"w":1.58},{"g":"s","id":"B2","c":"g","z":-1.31,"t":2,"w":1.91},
{"g":"s","id":"B3","c":"m","z":-0.58,"t":0,"w":1.78},{"g":"s","id":"B3","c":"m","z":-0.53,"t":0,"w":1.53},{"g":"s","id":"B3","c":"m","z":-1.21,"t":2,"w":1.31},{"g":"s","id":"B3","c":"m","z":-1.26,"t":2,"w":1.58},
{"g":"s","id":"B4","c":"n","z":-0.53,"t":0,"w":1.53},{"g":"s","id":"B4","c":"n","z":-0.49,"t":0,"w":1.35},{"g":"s","id":"B4","c":"n","z":-1.18,"t":2,"w":1.1},{"g":"s","id":"B4","c":"n","z":-1.21,"t":2,"w":1.31},
{"g":"s","id":"B5","c":"d","z":-0.49,"t":0,"w":1.35},{"g":"s","id":"B5","c":"d","z":-0.45,"t":0,"w":1.16},{"g":"s","id":"B5","c":"d","z":-1.15,"t":2,"w":0.9},{"g":"s","id":"B5","c":"d","z":-1.18,"t":2,"w":1.1},
{"g":"s","id":"F1","c":"n","z":-1.02,"t":0,"w":2.48},{"g":"s","id":"F1","c":"n","z":-0.85,"t":0,"w":1.6},{"g":"s","id":"F1","c":"n","z":-0.45,"t":0,"w":1.16},{"g":"s","id":"F1","c":"n","z":-0.7,"t":0,"w":2.4},
{"g":"s","id":"N","c":"v","z":-0.85,"t":0,"w":1.6},{"g":"s","id":"N","c":"v","z":-0.45,"t":0,"w":1.16},{"g":"s","id":"N","c":"v","z":-0.63,"t":0,"w":0.41},
{"g":"t","t":0,"z":-6,"w":1.44},{"g":"t","t":0,"z":-1.17,"w":1.58},{"g":"t","t":0,"z":-1.02,"w":2.48},{"g":"t","t":0,"z":-0.7,"w":2.4},{"g":"t","t":0,"z":-0.45,"w":1.16},{"g":"t","t":0,"z":0.15,"w":1.3},{"g":"t","t":0,"z":1.3,"w":1.42},{"g":"t","t":0,"z":6,"w":1.44},
{"g":"t","t":0.125,"z":-6,"w":1.44},{"g":"t","t":0.125,"z":-1.2,"w":1.58},{"g":"t","t":0.125,"z":-1.05,"w":2.48},{"g":"t","t":0.125,"z":-0.74,"w":2.39},{"g":"t","t":0.125,"z":-0.49,"w":1.14},{"g":"t","t":0.125,"z":0.11,"w":1.3},{"g":"t","t":0.125,"z":1.3,"w":1.42},{"g":"t","t":0.125,"z":6,"w":1.44},
{"g":"t","t":0.25,"z":-6,"w":1.44},{"g":"t","t":0.25,"z":-1.22,"w":1.58},{"g":"t","t":0.25,"z":-1.07,"w":2.49},{"g":"t","t":0.25,"z":-0.78,"w":2.38},{"g":"t","t":0.25,"z":-0.54,"w":1.13},{"g":"t","t":0.25,"z":0.06,"w":1.3},{"g":"t","t":0.25,"z":1.3,"w":1.42},{"g":"t","t":0.25,"z":6,"w":1.44},
{"g":"t","t":0.375,"z":-6,"w":1.44},{"g":"t","t":0.375,"z":-1.25,"w":1.58},{"g":"t","t":0.375,"z":-1.1,"w":2.49},{"g":"t","t":0.375,"z":-0.82,"w":2.37},{"g":"t","t":0.375,"z":-0.58,"w":1.11},{"g":"t","t":0.375,"z":0.02,"w":1.3},{"g":"t","t":0.375,"z":1.3,"w":1.42},{"g":"t","t":0.375,"z":6,"w":1.44},
{"g":"t","t":0.5,"z":-6,"w":1.44},{"g":"t","t":0.5,"z":-1.27,"w":1.58},{"g":"t","t":0.5,"z":-1.12,"w":2.5},{"g":"t","t":0.5,"z":-0.87,"w":2.36},{"g":"t","t":0.5,"z":-0.63,"w":1.1},{"g":"t","t":0.5,"z":-0.03,"w":1.3},{"g":"t","t":0.5,"z":1.3,"w":1.42},{"g":"t","t":0.5,"z":6,"w":1.44},
{"g":"t","t":0.625,"z":-6,"w":1.44},{"g":"t","t":0.625,"z":-1.3,"w":1.58},{"g":"t","t":0.625,"z":-1.15,"w":2.5},{"g":"t","t":0.625,"z":-0.91,"w":2.35},{"g":"t","t":0.625,"z":-0.67,"w":1.08},{"g":"t","t":0.625,"z":-0.07,"w":1.3},{"g":"t","t":0.625,"z":1.3,"w":1.42},{"g":"t","t":0.625,"z":6,"w":1.44},
{"g":"t","t":0.75,"z":-6,"w":1.44},{"g":"t","t":0.75,"z":-1.32,"w":1.58},{"g":"t","t":0.75,"z":-1.17,"w":2.5},{"g":"t","t":0.75,"z":-0.95,"w":2.34},{"g":"t","t":0.75,"z":-0.71,"w":1.06},{"g":"t","t":0.75,"z":-0.11,"w":1.3},{"g":"t","t":0.75,"z":1.3,"w":1.42},{"g":"t","t":0.75,"z":6,"w":1.44},
{"g":"t","t":0.875,"z":-6,"w":1.44},{"g":"t","t":0.875,"z":-1.35,"w":1.58},{"g":"t","t":0.875,"z":-1.2,"w":2.51},{"g":"t","t":0.875,"z":-0.99,"w":2.33},{"g":"t","t":0.875,"z":-0.76,"w":1.05},{"g":"t","t":0.875,"z":-0.16,"w":1.3},{"g":"t","t":0.875,"z":1.3,"w":1.42},{"g":"t","t":0.875,"z":6,"w":1.44},
{"g":"t","t":1,"z":-6,"w":1.44},{"g":"t","t":1,"z":-1.37,"w":1.58},{"g":"t","t":1,"z":-1.22,"w":2.51},{"g":"t","t":1,"z":-1.03,"w":2.33},{"g":"t","t":1,"z":-0.8,"w":1.03},{"g":"t","t":1,"z":-0.2,"w":1.3},{"g":"t","t":1,"z":1.3,"w":1.42},{"g":"t","t":1,"z":6,"w":1.44},
{"g":"t","t":1.125,"z":-6,"w":1.44},{"g":"t","t":1.125,"z":-1.4,"w":1.58},{"g":"t","t":1.125,"z":-1.25,"w":2.51},{"g":"t","t":1.125,"z":-1.07,"w":2.32},{"g":"t","t":1.125,"z":-0.84,"w":1.01},{"g":"t","t":1.125,"z":-0.24,"w":1.3},{"g":"t","t":1.125,"z":1.3,"w":1.42},{"g":"t","t":1.125,"z":6,"w":1.44},
{"g":"t","t":1.25,"z":-6,"w":1.44},{"g":"t","t":1.25,"z":-1.42,"w":1.58},{"g":"t","t":1.25,"z":-1.27,"w":2.52},{"g":"t","t":1.25,"z":-1.11,"w":2.31},{"g":"t","t":1.25,"z":-0.89,"w":1},{"g":"t","t":1.25,"z":-0.29,"w":1.3},{"g":"t","t":1.25,"z":1.3,"w":1.42},{"g":"t","t":1.25,"z":6,"w":1.44},
{"g":"t","t":1.375,"z":-6,"w":1.44},{"g":"t","t":1.375,"z":-1.45,"w":1.58},{"g":"t","t":1.375,"z":-1.3,"w":2.52},{"g":"t","t":1.375,"z":-1.15,"w":2.3},{"g":"t","t":1.375,"z":-0.93,"w":0.98},{"g":"t","t":1.375,"z":-0.33,"w":1.3},{"g":"t","t":1.375,"z":1.3,"w":1.42},{"g":"t","t":1.375,"z":6,"w":1.44},
{"g":"t","t":1.5,"z":-6,"w":1.44},{"g":"t","t":1.5,"z":-1.47,"w":1.58},{"g":"t","t":1.5,"z":-1.32,"w":2.52},{"g":"t","t":1.5,"z":-1.2,"w":2.29},{"g":"t","t":1.5,"z":-0.98,"w":0.97},{"g":"t","t":1.5,"z":-0.38,"w":1.3},{"g":"t","t":1.5,"z":1.3,"w":1.42},{"g":"t","t":1.5,"z":6,"w":1.44},
{"g":"t","t":1.625,"z":-6,"w":1.44},{"g":"t","t":1.625,"z":-1.5,"w":1.58},{"g":"t","t":1.625,"z":-1.35,"w":2.53},{"g":"t","t":1.625,"z":-1.24,"w":2.28},{"g":"t","t":1.625,"z":-1.02,"w":0.95},{"g":"t","t":1.625,"z":-0.42,"w":1.3},{"g":"t","t":1.625,"z":1.3,"w":1.42},{"g":"t","t":1.625,"z":6,"w":1.44},
{"g":"t","t":1.75,"z":-6,"w":1.44},{"g":"t","t":1.75,"z":-1.52,"w":1.58},{"g":"t","t":1.75,"z":-1.37,"w":2.53},{"g":"t","t":1.75,"z":-1.28,"w":2.27},{"g":"t","t":1.75,"z":-1.06,"w":0.93},{"g":"t","t":1.75,"z":-0.46,"w":1.3},{"g":"t","t":1.75,"z":1.3,"w":1.42},{"g":"t","t":1.75,"z":6,"w":1.44},
{"g":"t","t":1.875,"z":-6,"w":1.44},{"g":"t","t":1.875,"z":-1.55,"w":1.58},{"g":"t","t":1.875,"z":-1.4,"w":2.54},{"g":"t","t":1.875,"z":-1.32,"w":2.26},{"g":"t","t":1.875,"z":-1.11,"w":0.92},{"g":"t","t":1.875,"z":-0.51,"w":1.3},{"g":"t","t":1.875,"z":1.3,"w":1.42},{"g":"t","t":1.875,"z":6,"w":1.44},
{"g":"t","t":2,"z":-6,"w":1.44},{"g":"t","t":2,"z":-1.57,"w":1.58},{"g":"t","t":2,"z":-1.42,"w":2.54},{"g":"t","t":2,"z":-1.36,"w":2.25},{"g":"t","t":2,"z":-1.15,"w":0.9},{"g":"t","t":2,"z":-0.55,"w":1.22},{"g":"t","t":2,"z":1.3,"w":1.42},{"g":"t","t":2,"z":6,"w":1.44},
{"g":"z","z":-6,"t":0,"w":1.44},{"g":"z","z":-6,"t":2,"w":1.44},{"g":"z","z":-5.25,"t":0,"w":1.44},{"g":"z","z":-5.25,"t":2,"w":1.44},{"g":"z","z":-4.5,"t":0,"w":1.44},{"g":"z","z":-4.5,"t":2,"w":1.44},{"g":"z","z":-3.75,"t":0,"w":1.44},{"g":"z","z":-3.75,"t":2,"w":1.44},{"g":"z","z":-3,"t":0,"w":1.44},{"g":"z","z":-3,"t":2,"w":1.44},{"g":"z","z":-2.25,"t":0,"w":1.46},{"g":"z","z":-2.25,"t":2,"w":1.46},{"g":"z","z":0,"t":0,"w":1.31},{"g":"z","z":0,"t":2,"w":1.28},{"g":"z","z":0.75,"t":0,"w":1.44},{"g":"z","z":0.75,"t":2,"w":1.35},{"g":"z","z":1.5,"t":0,"w":1.47},{"g":"z","z":1.5,"t":2,"w":1.4},{"g":"z","z":2.25,"t":0,"w":1.46},{"g":"z","z":2.25,"t":2,"w":1.42},{"g":"z","z":3,"t":0,"w":1.45},{"g":"z","z":3,"t":2,"w":1.43},{"g":"z","z":3.75,"t":0,"w":1.45},{"g":"z","z":3.75,"t":2,"w":1.44},{"g":"z","z":4.5,"t":0,"w":1.44},{"g":"z","z":4.5,"t":2,"w":1.44},{"g":"z","z":5.25,"t":0,"w":1.44},{"g":"z","z":5.25,"t":2,"w":1.44},{"g":"z","z":6,"t":0,"w":1.44},{"g":"z","z":6,"t":2,"w":1.44},
{"g":"kz","z":-6,"t":-0.04,"w":0.08,"m":0},{"g":"kz","z":-5,"t":-0.04,"w":0.08,"m":1},{"g":"kz","z":-4,"t":-0.04,"w":0.08,"m":0},{"g":"kz","z":-3,"t":-0.04,"w":0.08,"m":0},{"g":"kz","z":-2,"t":-0.04,"w":0.08,"m":0},{"g":"kz","z":-1,"t":-0.04,"w":0.08,"m":0},{"g":"kz","z":0,"t":-0.04,"w":0.08,"m":1},{"g":"kz","z":1,"t":-0.04,"w":0.08,"m":0},{"g":"kz","z":2,"t":-0.04,"w":0.08,"m":0},{"g":"kz","z":3,"t":-0.04,"w":0.08,"m":0},{"g":"kz","z":4,"t":-0.04,"w":0.08,"m":0},{"g":"kz","z":5,"t":-0.04,"w":0.08,"m":1},{"g":"kz","z":6,"t":-0.04,"w":0.08,"m":0},
{"g":"kt","z":6.3,"t":0,"w":0.08,"m":1},{"g":"kt","z":6.3,"t":0.1,"w":0.08,"m":0},{"g":"kt","z":6.3,"t":0.2,"w":0.08,"m":0},{"g":"kt","z":6.3,"t":0.3,"w":0.08,"m":0},{"g":"kt","z":6.3,"t":0.4,"w":0.08,"m":0},{"g":"kt","z":6.3,"t":0.5,"w":0.08,"m":1},{"g":"kt","z":6.3,"t":0.6,"w":0.08,"m":0},{"g":"kt","z":6.3,"t":0.7,"w":0.08,"m":0},{"g":"kt","z":6.3,"t":0.8,"w":0.08,"m":0},{"g":"kt","z":6.3,"t":0.9,"w":0.08,"m":0},{"g":"kt","z":6.3,"t":1,"w":0.08,"m":1},{"g":"kt","z":6.3,"t":1.1,"w":0.08,"m":0},{"g":"kt","z":6.3,"t":1.2,"w":0.08,"m":0},{"g":"kt","z":6.3,"t":1.3,"w":0.08,"m":0},{"g":"kt","z":6.3,"t":1.4,"w":0.08,"m":0},{"g":"kt","z":6.3,"t":1.5,"w":0.08,"m":1},{"g":"kt","z":6.3,"t":1.6,"w":0.08,"m":0},{"g":"kt","z":6.3,"t":1.7,"w":0.08,"m":0},{"g":"kt","z":6.3,"t":1.8,"w":0.08,"m":0},{"g":"kt","z":6.3,"t":1.9,"w":0.08,"m":0},{"g":"kt","z":6.3,"t":2,"w":0.08,"m":1},
{"g":"kw","z":-6.3,"t":-0.04,"w":0.2,"m":0},{"g":"kw","z":-6.3,"t":-0.04,"w":0.4,"m":0},{"g":"kw","z":-6.3,"t":-0.04,"w":0.6,"m":0},{"g":"kw","z":-6.3,"t":-0.04,"w":0.8,"m":0},{"g":"kw","z":-6.3,"t":-0.04,"w":1,"m":1},{"g":"kw","z":-6.3,"t":-0.04,"w":1.2,"m":0},{"g":"kw","z":-6.3,"t":-0.04,"w":1.4,"m":0},{"g":"kw","z":-6.3,"t":-0.04,"w":1.6,"m":0},{"g":"kw","z":-6.3,"t":-0.04,"w":1.8,"m":0},{"g":"kw","z":-6.3,"t":-0.04,"w":2,"m":1},{"g":"kw","z":-6.3,"t":-0.04,"w":2.2,"m":0},{"g":"kw","z":-6.3,"t":-0.04,"w":2.4,"m":0},{"g":"kw","z":-6.3,"t":-0.04,"w":2.6,"m":0},
{"g":"lz","z":-5,"t":-0.04,"w":0.08,"x":"−5"},{"g":"lz","z":0,"t":-0.04,"w":0.08,"x":"0"},{"g":"lz","z":5,"t":-0.04,"w":0.08,"x":"5"},
{"g":"lt","z":6.3,"t":0,"w":0.08,"x":"0.0"},{"g":"lt","z":6.3,"t":0.5,"w":0.08,"x":"0.5"},{"g":"lt","z":6.3,"t":1,"w":0.08,"x":"1.0"},{"g":"lt","z":6.3,"t":1.5,"w":0.08,"x":"1.5"},{"g":"lt","z":6.3,"t":2,"w":0.08,"x":"2.0"},
{"g":"lw","z":-6.3,"t":-0.04,"w":1,"x":"1"},{"g":"lw","z":-6.3,"t":-0.04,"w":2,"x":"2"},
{"g":"li","z":0.27,"t":-0.35,"w":0.08,"x":"z"},{"g":"li","z":7.71,"t":0.985,"w":0.08,"x":"t"},
{"g":"W","z":-6.3,"t":-0.04,"w":1.76},
{"g":"c","z":3.9,"t":-0.69,"w":0.08,"x":"(c)"}
]},
"transform":[{"window":[{"op":"row_number","as":"i"}]},
{"calculate":"((datum.z+6.3)/12.6)*0.887/(1-0.113*(datum.z+6.3)/12.6)","as":"u"},
{"calculate":"((datum.t+0.04)/2.08)*1.222/(1+0.222*(datum.t+0.04)/2.08)","as":"v"},
{"calculate":"(datum.w-0.08)/2.69","as":"h"},
{"calculate":"(1-datum.h)*((1-datum.v)*((1-datum.u)*180+datum.u*1040)+datum.v*((1-datum.u)*665+datum.u*1410))+datum.h*((1-datum.v)*((1-datum.u)*133+datum.u*1058)+datum.v*((1-datum.u)*657+datum.u*1450))","as":"sx"},
{"calculate":"(1-datum.h)*((1-datum.v)*((1-datum.u)*857+datum.u*1245)+datum.v*((1-datum.u)*370+datum.u*592))+datum.h*((1-datum.v)*((1-datum.u)*497+datum.u*875)+datum.v*((1-datum.u)*8+datum.u*248))","as":"sy"}],
"encoding":{"x":{"field":"sx","type":"quantitative","axis":null,"scale":{"domain":[-141.8,1701.6],"range":[0,1300],"zero":false,"nice":false}},"y":{"field":"sy","type":"quantitative","axis":null,"scale":{"domain":[-32.84,1551.7],"range":[0,965],"zero":false,"nice":false}}},
"layer":[
{"transform":[{"filter":"datum.g=='b'"}],"mark":{"type":"line","color":"#808080","strokeWidth":1.5},"encoding":{"detail":{"field":"id"},"order":{"field":"i"}}},
{"transform":[{"filter":"datum.g=='s'"}],"mark":{"type":"line","strokeWidth":1},"encoding":{"detail":{"field":"id"},"order":{"field":"i"},"fill":{"field":"c","type":"nominal","legend":null,"scale":{"domain":["p","sh","y","l","g","m","n","d","v"],"range":["#33BF9D","#2DA896","#C8D35E","#8FD06C","#61BF7C","#3AA88C","#2C8490","#256A8C","#18304F"]}},"stroke":{"field":"c","type":"nominal","legend":null,"scale":{"domain":["p","sh","y","l","g","m","n","d","v"],"range":["#33BF9D","#2DA896","#C8D35E","#8FD06C","#61BF7C","#3AA88C","#2C8490","#256A8C","#18304F"]}}}},
{"transform":[{"filter":"datum.g=='t'"}],"mark":{"type":"line","color":"#263238","strokeWidth":1.4},"encoding":{"detail":{"field":"t"},"order":{"field":"i"}}},
{"transform":[{"filter":"datum.g=='z'"}],"mark":{"type":"line","color":"#263238","strokeWidth":1.2},"encoding":{"detail":{"field":"z"},"order":{"field":"i"}}},
{"transform":[{"filter":"datum.g=='f'"}],"mark":{"type":"line","color":"#808080","strokeWidth":1.5},"encoding":{"detail":{"field":"id"},"order":{"field":"i"}}},
{"transform":[{"filter":"datum.g=='kz'"}],"mark":{"type":"point","shape":"M0,0L0.55,-0.84","filled":false,"color":"#808080","strokeWidth":1.5,"opacity":1},"encoding":{"size":{"field":"m","type":"quantitative","legend":null,"scale":{"domain":[0,1],"range":[144,576]}}}},
{"transform":[{"filter":"datum.g=='kt'"}],"mark":{"type":"point","shape":"M0,0L-0.93,-0.37","filled":false,"color":"#808080","strokeWidth":1.5,"opacity":1},"encoding":{"size":{"field":"m","type":"quantitative","legend":null,"scale":{"domain":[0,1],"range":[144,576]}}}},
{"transform":[{"filter":"datum.g=='kw'"}],"mark":{"type":"point","shape":"M0,0L0.93,0.37","filled":false,"color":"#808080","strokeWidth":1.5,"opacity":1},"encoding":{"size":{"field":"m","type":"quantitative","legend":null,"scale":{"domain":[0,1],"range":[144,576]}}}},
{"transform":[{"filter":"datum.g=='lz'"}],"mark":{"type":"text","dx":-22,"dy":29},"encoding":{"text":{"field":"x"}}},
{"transform":[{"filter":"datum.g=='lt'"}],"mark":{"type":"text","dx":33,"dy":11},"encoding":{"text":{"field":"x"}}},
{"transform":[{"filter":"datum.g=='lw'"}],"mark":{"type":"text","dx":-30,"dy":-4},"encoding":{"text":{"field":"x"}}},
{"transform":[{"filter":"datum.g=='li'"}],"mark":{"type":"text","fontStyle":"italic"},"encoding":{"text":{"field":"x"}}},
{"transform":[{"filter":"datum.g=='W'"}],"mark":{"type":"text","text":"(z,t)","align":"right","dx":-51},"encoding":{}},
{"transform":[{"filter":"datum.g=='W'"}],"mark":{"type":"text","text":"1,6","align":"right","dx":-103,"dy":7,"fontSize":23},"encoding":{}},
{"transform":[{"filter":"datum.g=='W'"}],"mark":{"type":"text","text":"W","align":"right","dx":-135,"fontStyle":"italic"},"encoding":{}},
{"transform":[{"filter":"datum.g=='c'"}],"mark":{"type":"text","font":"Liberation Serif","fontSize":78,"fontWeight":"bold","color":"#000000"},"encoding":{"text":{"field":"x"}}}
]},
{"width":1299,"height":965,
"encoding":{"x":{"field":"z","type":"quantitative","scale":{"domain":[-6.25,6.25],"range":[165,1237.6],"zero":false,"nice":false},"axis":{"orient":"bottom","offset":-210,"values":[-6,-5.5,-5,-4.5,-4,-3.5,-3,-2.5,-2,-1.5,-1,-0.5,0.5,1,1.5,2,2.5,3,3.5,4,4.5,5,5.5,6],"tickSize":{"condition":{"test":"datum.value%2==0","value":-11},"value":-6},"labelPadding":24,"labelExpr":"datum.value%2==0?replace(format(datum.value,'d'),'-','−'):''"}},"y":{"field":"t","type":"quantitative","scale":{"domain":[0,9.03],"range":[755,98.7],"zero":false,"nice":false},"axis":{"orient":"left","offset":-701,"values":[0.5,1,1.5,2,2.5,3,3.5,4,4.5,5,5.5,6,6.5,7,7.5,8,8.5,9],"tickSize":{"condition":{"test":"datum.value%2==0","value":-10},"value":-5},"labelPadding":12,"labelExpr":"datum.value%2==0?format(datum.value,'d'):''"}}},
"layer":[
{"data":{"values":[
{"s":"r","z":-6,"t":1.48},{"s":"r","z":-3.42,"t":1.51},{"s":"r","z":-1.81,"t":1.55},{"s":"r","z":-1.4,"t":1.59},{"s":"r","z":-1.18,"t":1.62},{"s":"r","z":-1.02,"t":1.66},{"s":"r","z":-0.91,"t":1.72},{"s":"r","z":-0.81,"t":1.81},{"s":"r","z":-0.73,"t":1.93},{"s":"r","z":-0.69,"t":2.08},{"s":"r","z":-0.66,"t":2.35},{"s":"r","z":-0.64,"t":3.27},{"s":"r","z":-0.62,"t":4.99},{"s":"r","z":-0.59,"t":2.85},{"s":"r","z":-0.54,"t":1.6},{"s":"r","z":-0.457,"t":0.42},{"s":"r","z":-0.43,"t":0.78},{"s":"r","z":-0.41,"t":0.92},{"s":"r","z":-0.33,"t":1.13},{"s":"r","z":-0.22,"t":1.22},{"s":"r","z":-0.11,"t":1.27},{"s":"r","z":0.16,"t":1.34},{"s":"r","z":0.5,"t":1.38},{"s":"r","z":0.88,"t":1.41},{"s":"r","z":6,"t":1.44},
{"s":"p","z":-6,"t":1.425},{"s":"p","z":-1.27,"t":1.44},{"s":"p","z":-0.82,"t":1.51},{"s":"p","z":-0.63,"t":1.63},{"s":"p","z":-0.54,"t":2.01},{"s":"p","z":-0.49,"t":2.85},{"s":"p","z":-0.475,"t":4.86},{"s":"p","z":-0.457,"t":2.85},{"s":"p","z":-0.41,"t":2.01},{"s":"p","z":-0.33,"t":1.68},{"s":"p","z":-0.2,"t":1.53},{"s":"p","z":0.07,"t":1.46},{"s":"p","z":6,"t":1.425},
{"s":"g","z":-6,"t":1.54},{"s":"g","z":-3.6,"t":1.58},{"s":"g","z":-3,"t":1.61},{"s":"g","z":-2.75,"t":1.65},{"s":"g","z":-2.53,"t":1.72},{"s":"g","z":-2.38,"t":1.81},{"s":"g","z":-2.26,"t":1.93},{"s":"g","z":-2.17,"t":2.1},{"s":"g","z":-2.1,"t":2.35},{"s":"g","z":-2.05,"t":3},{"s":"g","z":-2.03,"t":5.2},{"s":"g","z":-2.015,"t":8.62},{"s":"g","z":-2,"t":5},{"s":"g","z":-1.98,"t":2.85},{"s":"g","z":-1.88,"t":1.55},{"s":"g","z":-1.77,"t":0.38},{"s":"g","z":-1.72,"t":0.75},{"s":"g","z":-1.63,"t":1.02},{"s":"g","z":-1.55,"t":1.12},{"s":"g","z":-1.45,"t":1.21},{"s":"g","z":-1.28,"t":1.28},{"s":"g","z":-1.09,"t":1.34},{"s":"g","z":-0.85,"t":1.38},{"s":"g","z":-0.56,"t":1.41},{"s":"g","z":0,"t":1.44},{"s":"g","z":1.95,"t":1.48},{"s":"g","z":6,"t":1.51}
]},"mark":{"type":"line","strokeWidth":7,"strokeCap":"butt","strokeJoin":"bevel"},"encoding":{"color":{"field":"s","type":"nominal","legend":null,"scale":{"domain":["r","p","g"],"range":["#FF0000","#800080","#00FF00"]}}}},
{"data":{"values":[{"z":0,"t":9.55,"x":"t"},{"z":6.63,"t":-0.07,"x":"z"}]},"mark":{"type":"text","fontStyle":"italic"},"encoding":{"text":{"field":"x"}}},
{"data":{"values":[{"z":0.24,"t":-1.72,"x":"(d)"}]},"mark":{"type":"text","font":"Liberation Serif","fontSize":78,"fontWeight":"bold","color":"#000000"},"encoding":{"text":{"field":"x"}}}
]},
{"width":1300,"height":985,
"encoding":{"x":{"field":"z","type":"quantitative","scale":{"domain":[-6.24,6.25],"range":[34.6,1106],"zero":false,"nice":false},"axis":{"orient":"bottom","offset":-318,"values":[-6,-5.5,-5,-4.5,-4,-3.5,-3,-2.5,-2,-1.5,-1,-0.5,0.5,1,1.5,2,2.5,3,3.5,4,4.5,5,5.5,6],"tickSize":{"condition":{"test":"datum.value%2==0","value":-11},"value":-6},"labelPadding":24,"labelExpr":"datum.value%2==0?replace(format(datum.value,'d'),'-','−'):''"}},"y":{"field":"t","type":"quantitative","scale":{"domain":[0.07,6.296],"range":[766,103],"zero":false,"nice":false},"axis":{"orient":"left","offset":-570,"values":[0.2,0.4,0.6,0.8,1.2,1.4,1.6,1.8,2,2.2,2.4,2.6,2.8,3,3.2,3.4,3.6,3.8,4,4.2,4.4,4.6,4.8,5,5.2,5.4,5.6,5.8,6,6.2],"tickSize":{"condition":{"test":"abs(datum.value-round(datum.value))<0.01","value":-10},"value":-5},"labelPadding":12,"labelExpr":"abs(datum.value-round(datum.value))<0.01?format(datum.value,'d'):''"}}},
"layer":[
{"data":{"values":[
{"s":"r","z":-6,"t":1.48},{"s":"r","z":-2.16,"t":1.51},{"s":"r","z":-1.55,"t":1.55},{"s":"r","z":-1.26,"t":1.585},{"s":"r","z":-1.05,"t":1.63},{"s":"r","z":-0.9,"t":1.7},{"s":"r","z":-0.82,"t":1.8},{"s":"r","z":-0.77,"t":1.92},{"s":"r","z":-0.73,"t":2.15},{"s":"r","z":-0.71,"t":2.52},{"s":"r","z":-0.68,"t":3.6},{"s":"r","z":-0.655,"t":4.98},{"s":"r","z":-0.63,"t":3.33},{"s":"r","z":-0.59,"t":1.7},{"s":"r","z":-0.55,"t":1.16},{"s":"r","z":-0.5,"t":0.41},{"s":"r","z":-0.47,"t":0.7},{"s":"r","z":-0.45,"t":0.84},{"s":"r","z":-0.37,"t":1.11},{"s":"r","z":-0.28,"t":1.21},{"s":"r","z":-0.19,"t":1.27},{"s":"r","z":0.17,"t":1.34},{"s":"r","z":0.89,"t":1.39},{"s":"r","z":6,"t":1.44},
{"s":"p","z":-6,"t":1.42},{"s":"p","z":-1.08,"t":1.43},{"s":"p","z":-0.73,"t":1.49},{"s":"p","z":-0.55,"t":1.6},{"s":"p","z":-0.475,"t":1.98},{"s":"p","z":-0.45,"t":2.79},{"s":"p","z":-0.43,"t":4.85},{"s":"p","z":-0.4,"t":2.79},{"s":"p","z":-0.37,"t":1.98},{"s":"p","z":-0.28,"t":1.6},{"s":"p","z":-0.14,"t":1.49},{"s":"p","z":0,"t":1.45},{"s":"p","z":6,"t":1.42},
{"s":"g","z":-6,"t":1.54},{"s":"g","z":-3.7,"t":1.57},{"s":"g","z":-3.06,"t":1.61},{"s":"g","z":-2.82,"t":1.65},{"s":"g","z":-2.61,"t":1.7},{"s":"g","z":-2.46,"t":1.79},{"s":"g","z":-2.34,"t":1.92},{"s":"g","z":-2.25,"t":2.07},{"s":"g","z":-2.19,"t":2.25},{"s":"g","z":-2.13,"t":2.79},{"s":"g","z":-2.11,"t":4.41},{"s":"g","z":-2.09,"t":6},{"s":"g","z":-2.07,"t":3.87},{"s":"g","z":-2.04,"t":2.52},{"s":"g","z":-1.96,"t":1.43},{"s":"g","z":-1.89,"t":0.78},{"s":"g","z":-1.85,"t":0.35},{"s":"g","z":-1.8,"t":0.67},{"s":"g","z":-1.75,"t":0.87},{"s":"g","z":-1.71,"t":1},{"s":"g","z":-1.62,"t":1.14},{"s":"g","z":-1.53,"t":1.24},{"s":"g","z":-1.35,"t":1.31},{"s":"g","z":-1.17,"t":1.35},{"s":"g","z":-0.55,"t":1.42},{"s":"g","z":0,"t":1.45},{"s":"g","z":1.96,"t":1.48},{"s":"g","z":6,"t":1.49}
]},"mark":{"type":"line","strokeWidth":7,"strokeCap":"butt","strokeJoin":"bevel"},"encoding":{"color":{"field":"s","type":"nominal","legend":null,"scale":{"domain":["r","p","g"],"range":["#FF0000","#800080","#00FF00"]}}}},
{"data":{"values":[{"z":0,"t":6.7,"x":"t"},{"z":6.6,"t":0.98,"x":"z"}]},"mark":{"type":"text","fontStyle":"italic"},"encoding":{"text":{"field":"x"}}},
{"data":{"values":[{"z":0.24,"t":-0.7,"x":"(e)"}]},"mark":{"type":"text","font":"Liberation Serif","fontSize":78,"fontWeight":"bold","color":"#000000"},"encoding":{"text":{"field":"x"}}}
]},
{"width":1299,"height":985,
"encoding":{"x":{"field":"z","type":"quantitative","scale":{"domain":[-6.25,6.25],"range":[165,1237.6],"zero":false,"nice":false},"axis":{"orient":"bottom","offset":-310.5,"values":[-6,-5.5,-5,-4.5,-4,-3.5,-3,-2.5,-2,-1.5,-1,-0.5,0.5,1,1.5,2,2.5,3,3.5,4,4.5,5,5.5,6],"tickSize":{"condition":{"test":"datum.value%2==0","value":-11},"value":-6},"labelPadding":24,"labelExpr":"datum.value%2==0?replace(format(datum.value,'d'),'-','−'):''"}},"y":{"field":"t","type":"quantitative","scale":{"domain":[0.037,7.01],"range":[766,103.3],"zero":false,"nice":false},"axis":{"orient":"left","offset":-701,"values":[0.2,0.4,0.6,0.8,1.2,1.4,1.6,1.8,2,2.2,2.4,2.6,2.8,3,3.2,3.4,3.6,3.8,4,4.2,4.4,4.6,4.8,5,5.2,5.4,5.6,5.8,6,6.2,6.4,6.6,6.8,7],"tickSize":{"condition":{"test":"abs(datum.value-round(datum.value))<0.01","value":-10},"value":-5},"labelPadding":12,"labelExpr":"abs(datum.value-round(datum.value))<0.01?format(datum.value,'d'):''"}}},
"layer":[
{"data":{"values":[
{"s":"r","z":-6,"t":1.49},{"s":"r","z":-2,"t":1.53},{"s":"r","z":-1.5,"t":1.56},{"s":"r","z":-1.27,"t":1.58},{"s":"r","z":-1.05,"t":1.63},{"s":"r","z":-0.91,"t":1.69},{"s":"r","z":-0.81,"t":1.77},{"s":"r","z":-0.73,"t":1.87},{"s":"r","z":-0.69,"t":2.03},{"s":"r","z":-0.66,"t":2.29},{"s":"r","z":-0.64,"t":3.09},{"s":"r","z":-0.62,"t":4.98},{"s":"r","z":-0.59,"t":2.78},{"s":"r","z":-0.54,"t":1.5},{"s":"r","z":-0.47,"t":0.41},{"s":"r","z":-0.44,"t":0.74},{"s":"r","z":-0.42,"t":0.9},{"s":"r","z":-0.33,"t":1.2},{"s":"r","z":-0.22,"t":1.27},{"s":"r","z":-0.11,"t":1.31},{"s":"r","z":0.16,"t":1.35},{"s":"r","z":0.88,"t":1.41},{"s":"r","z":6,"t":1.44},
{"s":"p","z":-6,"t":1.43},{"s":"p","z":-1.27,"t":1.44},{"s":"p","z":-0.82,"t":1.49},{"s":"p","z":-0.63,"t":1.6},{"s":"p","z":-0.54,"t":1.93},{"s":"p","z":-0.49,"t":2.78},{"s":"p","z":-0.475,"t":4.85},{"s":"p","z":-0.457,"t":2.78},{"s":"p","z":-0.41,"t":1.93},{"s":"p","z":-0.33,"t":1.6},{"s":"p","z":-0.2,"t":1.49},{"s":"p","z":0.07,"t":1.46},{"s":"p","z":6,"t":1.43},
{"s":"g","z":-6,"t":1.54},{"s":"g","z":-3.6,"t":1.58},{"s":"g","z":-3,"t":1.61},{"s":"g","z":-2.75,"t":1.64},{"s":"g","z":-2.53,"t":1.69},{"s":"g","z":-2.38,"t":1.77},{"s":"g","z":-2.26,"t":1.87},{"s":"g","z":-2.18,"t":2},{"s":"g","z":-2.12,"t":2.17},{"s":"g","z":-2.08,"t":3.09},{"s":"g","z":-2.05,"t":5.52},{"s":"g","z":-2.04,"t":6.69},{"s":"g","z":-2.025,"t":4.3},{"s":"g","z":-2,"t":2.78},{"s":"g","z":-1.93,"t":1.57},{"s":"g","z":-1.84,"t":0.78},{"s":"g","z":-1.81,"t":0.35},{"s":"g","z":-1.76,"t":0.78},{"s":"g","z":-1.7,"t":1.02},{"s":"g","z":-1.63,"t":1.12},{"s":"g","z":-1.54,"t":1.2},{"s":"g","z":-1.38,"t":1.27},{"s":"g","z":-1.18,"t":1.32},{"s":"g","z":-0.56,"t":1.41},{"s":"g","z":0,"t":1.44},{"s":"g","z":1.95,"t":1.49},{"s":"g","z":6,"t":1.5}
]},"mark":{"type":"line","strokeWidth":7,"strokeCap":"butt","strokeJoin":"bevel"},"encoding":{"color":{"field":"s","type":"nominal","legend":null,"scale":{"domain":["r","p","g"],"range":["#FF0000","#800080","#00FF00"]}}}},
{"data":{"values":[{"z":0,"t":7.35,"x":"t"},{"z":6.63,"t":0.98,"x":"z"}]},"mark":{"type":"text","fontStyle":"italic"},"encoding":{"text":{"field":"x"}}},
{"data":{"values":[{"z":0.24,"t":-0.79,"x":"(f)"}]},"mark":{"type":"text","font":"Liberation Serif","fontSize":78,"color":"#000000"},"encoding":{"text":{"field":"x"}}}
]},
{"width":1300,"height":971,
"encoding":{"x":{"field":"z","type":"quantitative","scale":{"domain":[-6.27,6.256],"range":[33.3,1193.3],"zero":false,"nice":false},"axis":{"orient":"bottom","offset":-208,"values":[-6,-5.5,-5,-4.5,-4,-3.5,-3,-2.5,-2,-1.5,-1,-0.5,0.5,1,1.5,2,2.5,3,3.5,4,4.5,5,5.5,6],"tickSize":{"condition":{"test":"datum.value%2==0","value":-11},"value":-6},"labelPadding":24,"labelExpr":"datum.value%2==0?replace(format(datum.value,'d'),'-','−'):''"}},"y":{"field":"t","type":"quantitative","scale":{"domain":[-0.08,9],"range":[769,54],"zero":false,"nice":false},"axis":{"orient":"left","offset":-614,"values":[0.5,1,1.5,2,2.5,3,3.5,4,4.5,5,5.5,6,6.5,7,7.5,8,8.5],"tickSize":{"condition":{"test":"datum.value%2==0","value":-10},"value":-5},"labelPadding":12,"labelExpr":"datum.value%2==0?format(datum.value,'d'):''"}}},
"layer":[
{"data":{"values":[
{"s":"r","z":-6,"t":1.44},{"s":"r","z":-2.58,"t":1.48},{"s":"r","z":-1.6,"t":1.54},{"s":"r","z":-1.23,"t":1.59},{"s":"r","z":-1,"t":1.64},{"s":"r","z":-0.87,"t":1.7},{"s":"r","z":-0.79,"t":1.8},{"s":"r","z":-0.74,"t":1.94},{"s":"r","z":-0.7,"t":2.2},{"s":"r","z":-0.675,"t":2.57},{"s":"r","z":-0.65,"t":4.46},{"s":"r","z":-0.62,"t":8.49},{"s":"r","z":-0.6,"t":4.15},{"s":"r","z":-0.575,"t":2.18},{"s":"r","z":-0.53,"t":1.15},{"s":"r","z":-0.47,"t":0.4},{"s":"r","z":-0.44,"t":0.68},{"s":"r","z":-0.42,"t":0.84},{"s":"r","z":-0.33,"t":1.11},{"s":"r","z":-0.24,"t":1.2},{"s":"r","z":-0.15,"t":1.27},{"s":"r","z":0.2,"t":1.37},{"s":"r","z":1.02,"t":1.42},{"s":"r","z":6,"t":1.43},
{"s":"g","z":-6,"t":1.48},{"s":"g","z":-3.03,"t":1.52},{"s":"g","z":-1.86,"t":1.61},{"s":"g","z":-1.65,"t":1.67},{"s":"g","z":-1.5,"t":1.74},{"s":"g","z":-1.4,"t":1.84},{"s":"g","z":-1.32,"t":1.98},{"s":"g","z":-1.25,"t":2.41},{"s":"g","z":-1.22,"t":3.36},{"s":"g","z":-1.205,"t":4.94},{"s":"g","z":-1.196,"t":6.02},{"s":"g","z":-1.18,"t":4.15},{"s":"g","z":-1.15,"t":2.57},{"s":"g","z":-1.1,"t":1.7},{"s":"g","z":-1,"t":0.36},{"s":"g","z":-0.97,"t":0.67},{"s":"g","z":-0.945,"t":0.84},{"s":"g","z":-0.88,"t":1.05},{"s":"g","z":-0.83,"t":1.15},{"s":"g","z":-0.72,"t":1.24},{"s":"g","z":-0.6,"t":1.31},{"s":"g","z":0,"t":1.39},{"s":"g","z":1.47,"t":1.44},{"s":"g","z":6,"t":1.44},
{"s":"b","z":-6,"t":1.53},{"s":"b","z":-3.93,"t":1.56},{"s":"b","z":-3.03,"t":1.62},{"s":"b","z":-2.75,"t":1.67},{"s":"b","z":-2.49,"t":1.74},{"s":"b","z":-2.32,"t":1.83},{"s":"b","z":-2.18,"t":1.94},{"s":"b","z":-2.1,"t":2.1},{"s":"b","z":-2.04,"t":2.33},{"s":"b","z":-1.99,"t":2.81},{"s":"b","z":-1.96,"t":4.94},{"s":"b","z":-1.94,"t":8.58},{"s":"b","z":-1.925,"t":4.94},{"s":"b","z":-1.9,"t":2.57},{"s":"b","z":-1.82,"t":1.47},{"s":"b","z":-1.7,"t":0.34},{"s":"b","z":-1.655,"t":0.76},{"s":"b","z":-1.6,"t":0.97},{"s":"b","z":-1.55,"t":1.11},{"s":"b","z":-1.44,"t":1.22},{"s":"b","z":-1.32,"t":1.29},{"s":"b","z":-0.87,"t":1.39},{"s":"b","z":0,"t":1.44},{"s":"b","z":2.37,"t":1.48},{"s":"b","z":6,"t":1.49}
]},"mark":{"type":"line","strokeWidth":7,"strokeCap":"butt","strokeJoin":"bevel"},"encoding":{"color":{"field":"s","type":"nominal","legend":null,"scale":{"domain":["r","g","b"],"range":["#FF0000","#00FF00","#0000FF"]}}}},
{"data":{"values":[{"z":0,"t":9.6,"x":"t"},{"z":6.6,"t":-0.03,"x":"z"}]},"mark":{"type":"text","fontStyle":"italic"},"encoding":{"text":{"field":"x"}}},
{"data":{"values":[{"z":0.24,"t":-1.73,"x":"(g)"}]},"mark":{"type":"text","font":"Liberation Serif","fontSize":78,"color":"#000000"},"encoding":{"text":{"field":"x"}}}
]}
]}
